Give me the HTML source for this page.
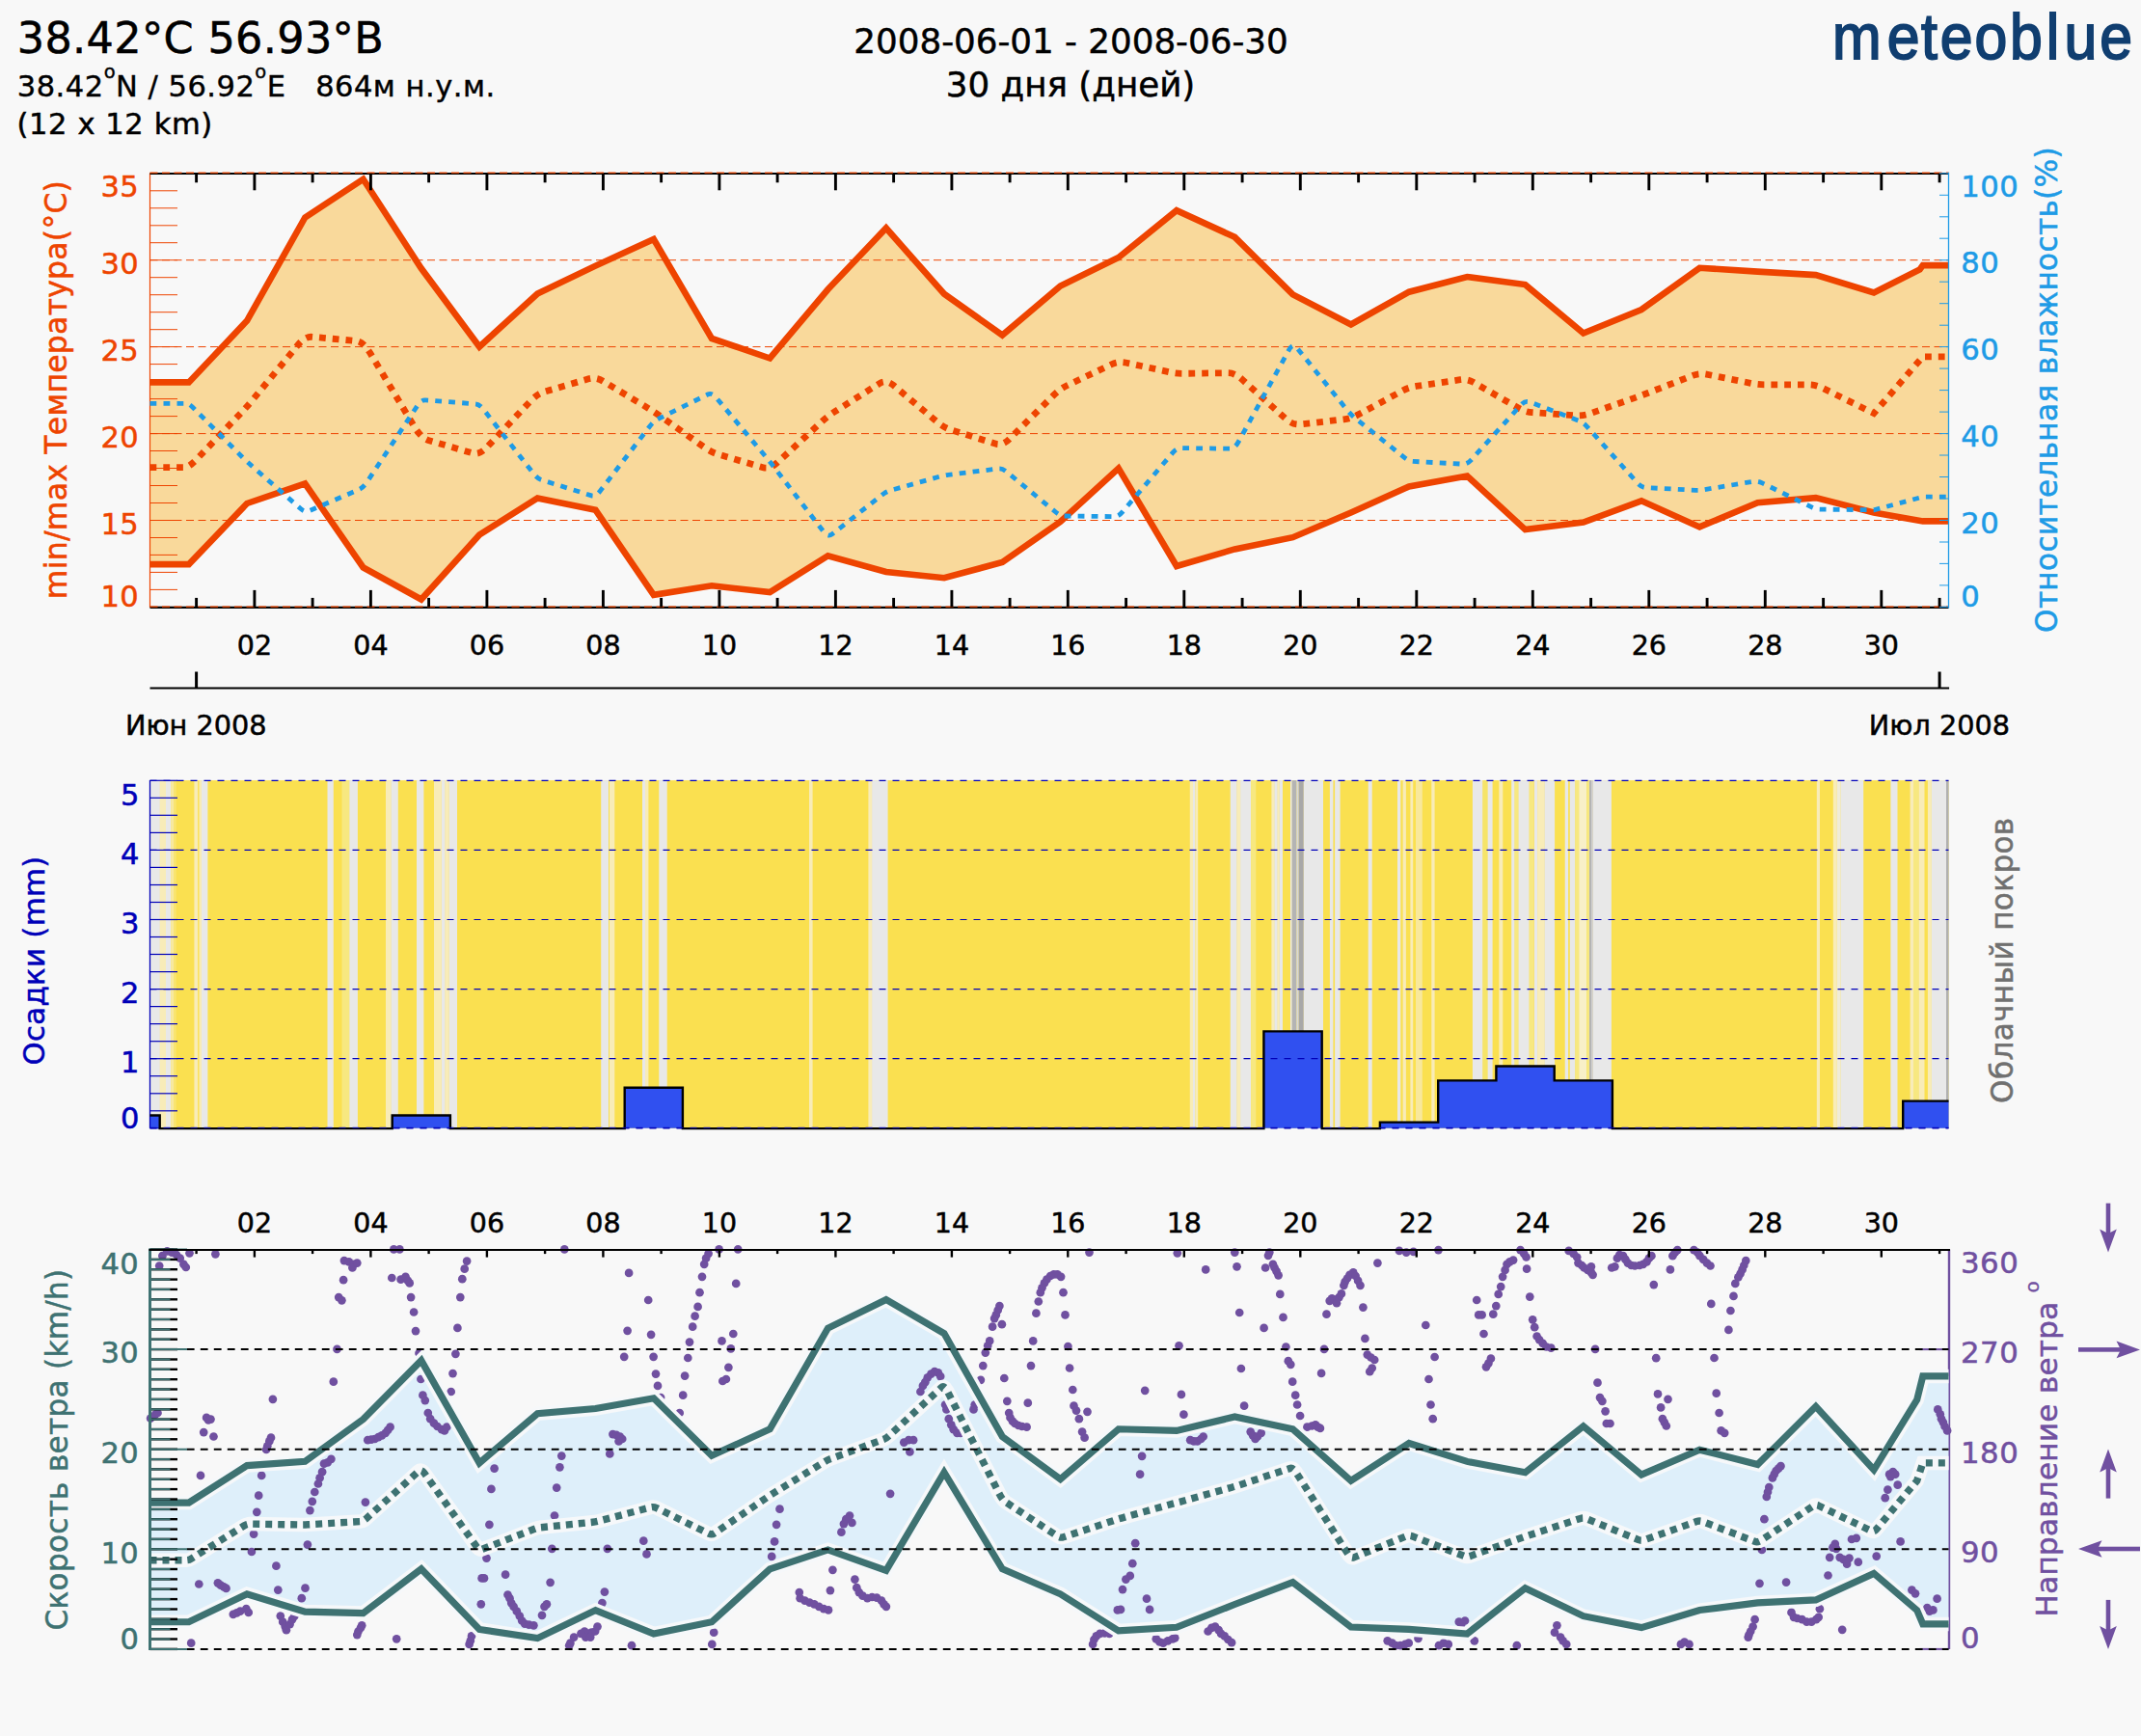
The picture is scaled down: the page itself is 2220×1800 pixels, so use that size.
<!DOCTYPE html>
<html><head><meta charset="utf-8"><title>meteoblue 2008-06</title>
<style>html,body{margin:0;padding:0;background:#f8f8f8}svg{display:block}text{font-family:'DejaVu Sans','Liberation Sans',sans-serif}</style></head>
<body><svg width="2220" height="1800" viewBox="0 0 2220 1800">
<rect width="2220" height="1800" fill="#f8f8f8"/>
<text x="17.8" y="55.2" font-size="44.5" fill="#000" stroke="#000" stroke-width="0.5" text-anchor="start" letter-spacing="0.35">38.42°C 56.93°B</text>
<text x="17.8" y="99.8" font-size="30.5" fill="#000" stroke="#000" stroke-width="0.4" letter-spacing="0.5">38.42<tspan font-size="19.5" dy="-18.4">o</tspan><tspan dy="18.4">N / 56.92</tspan><tspan font-size="19.5" dy="-18.4">o</tspan><tspan dy="18.4" xml:space="preserve">E   864м н.у.м.</tspan></text>
<text x="17.6" y="139.4" font-size="30.5" fill="#000" stroke="#000" stroke-width="0.5" text-anchor="start" letter-spacing="0.6">(12 x 12 km)</text>
<text x="1110.5" y="54.7" font-size="35.7" fill="#000" stroke="#000" stroke-width="0.5" text-anchor="middle" >2008-06-01 - 2008-06-30</text>
<text x="1110" y="99.5" font-size="35.7" fill="#000" stroke="#000" stroke-width="0.5" text-anchor="middle" >30 дня (дней)</text>
<text transform="translate(1897.5,61.3) scale(0.9,1)" x="2.8 65.8 105.1 127.0 166.7 207.2 249.2 269.9 310.9" y="0" style="font-family:'Liberation Sans',sans-serif" font-size="67.5" fill="#103e70" stroke="#103e70" stroke-width="1.9">meteoblue</text>
<polygon points="155.5,396.4 195.8,396.4 256.1,332.5 316.3,225.5 376.6,185.8 436.8,278.3 497.1,359.5 557.3,304.6 617.5,275.6 677.8,248 738,350.9 798.3,371.5 858.5,300 918.8,236.5 979,304.8 1039.3,347.5 1099.5,296.5 1159.8,267 1220,218.2 1280.3,245.8 1340.5,305.4 1400.8,336.5 1461,302.7 1521.3,287 1581.5,295.1 1641.8,345.5 1702,321 1762.3,277.8 1822.5,281.6 1882.8,285.1 1943,303.5 1990.6,279.5 1993.8,275.1 2020.5,275.1 2020.5,540.4 1993.8,540.4 1943,531.5 1882.8,516.1 1822.5,521.2 1762.3,546.4 1702,519.3 1641.8,541.5 1581.5,549.1 1521.3,493.6 1461,504.4 1400.8,531.5 1340.5,557.2 1280.3,569.4 1220,587 1159.8,485.6 1099.5,541 1039.3,583 979,599.2 918.8,593 858.5,576.2 798.3,614.1 738,607.3 677.8,616.8 617.5,528.8 557.3,516.5 497.1,554.5 436.8,621.5 376.6,588.4 316.3,501.5 256.1,522 195.8,585.1 155.5,585.1" fill="#f9d99b"/>
<line x1="155.5" y1="539.5" x2="2020.5" y2="539.5" stroke="#ee4400" stroke-width="1" stroke-dasharray="8 4.5"/>
<line x1="155.5" y1="449.6" x2="2020.5" y2="449.6" stroke="#ee4400" stroke-width="1" stroke-dasharray="8 4.5"/>
<line x1="155.5" y1="359.6" x2="2020.5" y2="359.6" stroke="#ee4400" stroke-width="1" stroke-dasharray="8 4.5"/>
<line x1="155.5" y1="269.7" x2="2020.5" y2="269.7" stroke="#ee4400" stroke-width="1" stroke-dasharray="8 4.5"/>
<line x1="155.5" y1="179.8" x2="2020.5" y2="179.8" stroke="#ee4400" stroke-width="1" stroke-dasharray="8 4.5"/>
<line x1="155.5" y1="629.4" x2="2020.5" y2="629.4" stroke="#ee4400" stroke-width="1" stroke-dasharray="8 4.5"/>
<line x1="155.5" y1="629.4" x2="184" y2="629.4" stroke="#ee4400" stroke-width="1" />
<line x1="155.5" y1="611.4" x2="184" y2="611.4" stroke="#ee4400" stroke-width="1" />
<line x1="155.5" y1="593.4" x2="184" y2="593.4" stroke="#ee4400" stroke-width="1" />
<line x1="155.5" y1="575.4" x2="184" y2="575.4" stroke="#ee4400" stroke-width="1" />
<line x1="155.5" y1="557.5" x2="184" y2="557.5" stroke="#ee4400" stroke-width="1" />
<line x1="155.5" y1="539.5" x2="184" y2="539.5" stroke="#ee4400" stroke-width="1" />
<line x1="155.5" y1="521.5" x2="184" y2="521.5" stroke="#ee4400" stroke-width="1" />
<line x1="155.5" y1="503.5" x2="184" y2="503.5" stroke="#ee4400" stroke-width="1" />
<line x1="155.5" y1="485.5" x2="184" y2="485.5" stroke="#ee4400" stroke-width="1" />
<line x1="155.5" y1="467.5" x2="184" y2="467.5" stroke="#ee4400" stroke-width="1" />
<line x1="155.5" y1="449.6" x2="184" y2="449.6" stroke="#ee4400" stroke-width="1" />
<line x1="155.5" y1="431.6" x2="184" y2="431.6" stroke="#ee4400" stroke-width="1" />
<line x1="155.5" y1="413.6" x2="184" y2="413.6" stroke="#ee4400" stroke-width="1" />
<line x1="155.5" y1="395.6" x2="184" y2="395.6" stroke="#ee4400" stroke-width="1" />
<line x1="155.5" y1="377.6" x2="184" y2="377.6" stroke="#ee4400" stroke-width="1" />
<line x1="155.5" y1="359.6" x2="184" y2="359.6" stroke="#ee4400" stroke-width="1" />
<line x1="155.5" y1="341.7" x2="184" y2="341.7" stroke="#ee4400" stroke-width="1" />
<line x1="155.5" y1="323.7" x2="184" y2="323.7" stroke="#ee4400" stroke-width="1" />
<line x1="155.5" y1="305.7" x2="184" y2="305.7" stroke="#ee4400" stroke-width="1" />
<line x1="155.5" y1="287.7" x2="184" y2="287.7" stroke="#ee4400" stroke-width="1" />
<line x1="155.5" y1="269.7" x2="184" y2="269.7" stroke="#ee4400" stroke-width="1" />
<line x1="155.5" y1="251.7" x2="184" y2="251.7" stroke="#ee4400" stroke-width="1" />
<line x1="155.5" y1="233.8" x2="184" y2="233.8" stroke="#ee4400" stroke-width="1" />
<line x1="155.5" y1="215.8" x2="184" y2="215.8" stroke="#ee4400" stroke-width="1" />
<line x1="155.5" y1="197.8" x2="184" y2="197.8" stroke="#ee4400" stroke-width="1" />
<line x1="155.5" y1="179.8" x2="184" y2="179.8" stroke="#ee4400" stroke-width="1" />
<line x1="155.5" y1="179.8" x2="155.5" y2="629.4" stroke="#ee4400" stroke-width="1.2" />
<path d="M155.5 484.6 L191 484.6 Q195.8 484.6 203 477.1 L248.8 429.3 Q256.1 421.8 263.3 413 L309.1 357.5 Q316.3 348.7 323.5 349.3 L369.3 353.5 Q376.6 354.1 383.8 366.1 L429.6 442.3 Q436.8 454.3 444 456.4 L489.8 469.8 Q497.1 471.9 504.3 464.3 L550.1 415.9 Q557.3 408.3 564.5 406.2 L610.3 392.8 Q617.5 390.7 624.8 395 L670.6 422.3 Q677.8 426.6 685 431.7 L730.8 464.1 Q738 469.2 745.3 471.3 L791.1 484.7 Q798.3 486.8 805.5 480.1 L851.3 438 Q858.5 431.3 865.8 426.7 L911.6 397.8 Q918.8 393.2 926 399.2 L971.8 437.5 Q979 443.5 986.3 445.8 L1032.1 460.1 Q1039.3 462.4 1046.5 455.3 L1092.3 410 Q1099.5 402.9 1106.8 399.5 L1152.6 377.8 Q1159.8 374.4 1167 376 L1212.8 385.8 Q1220 387.4 1227.3 387.3 L1273.1 386.7 Q1280.3 386.6 1287.5 393.1 L1333.3 434.3 Q1340.5 440.8 1347.8 440 L1393.6 434.8 Q1400.8 434 1408 430.1 L1453.8 405.4 Q1461 401.5 1468.3 400.4 L1514.1 393.7 Q1521.3 392.6 1528.5 396.8 L1574.3 423 Q1581.5 427.2 1588.8 427.7 L1634.6 430.8 Q1641.8 431.3 1649 428.7 L1694.8 412.6 Q1702 410 1709.3 407.2 L1755.1 389.4 Q1762.3 386.6 1769.5 388.1 L1815.3 397.3 Q1822.5 398.8 1829.8 398.8 L1875.6 398.8 Q1882.8 398.8 1890 402.4 L1943 428.6 L1993.8 369.8 L2020.5 369.8" fill="none" stroke="#ee4400" stroke-width="6.8" stroke-dasharray="6.8 7"/>
<polyline points="155.5,396.4 195.8,396.4 256.1,332.5 316.3,225.5 376.6,185.8 436.8,278.3 497.1,359.5 557.3,304.6 617.5,275.6 677.8,248 738,350.9 798.3,371.5 858.5,300 918.8,236.5 979,304.8 1039.3,347.5 1099.5,296.5 1159.8,267 1220,218.2 1280.3,245.8 1340.5,305.4 1400.8,336.5 1461,302.7 1521.3,287 1581.5,295.1 1641.8,345.5 1702,321 1762.3,277.8 1822.5,281.6 1882.8,285.1 1943,303.5 1990.6,279.5 1993.8,275.1 2020.5,275.1" fill="none" stroke="#ee4400" stroke-width="6.6" stroke-linejoin="miter"/>
<polyline points="155.5,585.1 195.8,585.1 256.1,522 316.3,501.5 376.6,588.4 436.8,621.5 497.1,554.5 557.3,516.5 617.5,528.8 677.8,616.8 738,607.3 798.3,614.1 858.5,576.2 918.8,593 979,599.2 1039.3,583 1099.5,541 1159.8,485.6 1220,587 1280.3,569.4 1340.5,557.2 1400.8,531.5 1461,504.4 1521.3,493.6 1581.5,549.1 1641.8,541.5 1702,519.3 1762.3,546.4 1822.5,521.2 1882.8,516.1 1943,531.5 1993.8,540.4 2020.5,540.4" fill="none" stroke="#ee4400" stroke-width="6.6" stroke-linejoin="miter"/>
<path d="M155.5 418.3 L193 418.3 Q195.8 418.3 200 422.5 L251.8 474.5 Q256.1 478.7 260.3 482.4 L312.1 527.8 Q316.3 531.5 320.5 529.7 L372.3 507.6 Q376.6 505.8 380.8 499.4 L432.6 420.9 Q436.8 414.5 441 414.8 L492.8 418.8 Q497.1 419.1 501.3 424.5 L553.1 490.9 Q557.3 496.3 561.5 497.6 L613.3 513.9 Q617.5 515.2 621.8 509.7 L673.6 442.2 Q677.8 436.7 682 434.6 L733.8 409 Q738 406.9 742.3 411.9 L794.1 473.7 Q798.3 478.7 802.5 484.2 L854.3 551.7 Q858.5 557.2 862.8 553.9 L914.6 513.1 Q918.8 509.8 923 508.6 L974.8 494 Q979 492.8 983.3 492.3 L1035.1 486 Q1039.3 485.5 1043.5 489 L1095.3 531.5 Q1099.5 535 1103.8 535 L1155.6 535.6 Q1159.8 535.6 1164 530.6 L1215.8 469.6 Q1220 464.6 1224.3 464.6 L1276.1 465.2 Q1280.3 465.2 1284.5 457.5 L1336.3 363.2 Q1340.5 355.5 1344.8 360.7 L1396.6 424.8 Q1400.8 430 1405 433.4 L1456.8 474.8 Q1461 478.2 1465.3 478.4 L1517.1 481.2 Q1521.3 481.4 1525.5 476.8 L1577.3 419.7 Q1581.5 415.1 1585.8 416.7 L1637.6 436.5 Q1641.8 438.1 1646 442.8 L1697.8 500.7 Q1702 505.4 1706.3 505.6 L1758.1 508.3 Q1762.3 508.5 1766.5 507.8 L1818.3 499.2 Q1822.5 498.5 1826.8 500.6 L1878.6 525.9 Q1882.8 528 1887 528.1 L1943 528.8 L1993.8 515.2 L2020.5 515.2" fill="none" stroke="#1e9be6" stroke-width="4.8" stroke-dasharray="6.8 7.2"/>
<line x1="155.5" y1="180" x2="2020.5" y2="180" stroke="#000" stroke-width="2.2" />
<line x1="155.5" y1="629.9" x2="2020.5" y2="629.9" stroke="#000" stroke-width="2.2" />
<line x1="155.5" y1="179.2" x2="2020.5" y2="179.2" stroke="#ee4400" stroke-width="1.2" stroke-dasharray="8 4.5"/>
<line x1="155.5" y1="629.1" x2="2020.5" y2="629.1" stroke="#ee4400" stroke-width="1.2" stroke-dasharray="8 4.5"/>
<line x1="203.6" y1="179.8" x2="203.6" y2="189.3" stroke="#000" stroke-width="2.9" />
<line x1="203.6" y1="629.4" x2="203.6" y2="619.9" stroke="#000" stroke-width="2.9" />
<line x1="263.9" y1="179.8" x2="263.9" y2="197.3" stroke="#000" stroke-width="2.9" />
<line x1="263.9" y1="629.4" x2="263.9" y2="611.9" stroke="#000" stroke-width="2.9" />
<text x="263.9" y="678.8" font-size="28.5" fill="#000" stroke="#000" stroke-width="0.5" text-anchor="middle" >02</text>
<line x1="324.1" y1="179.8" x2="324.1" y2="189.3" stroke="#000" stroke-width="2.9" />
<line x1="324.1" y1="629.4" x2="324.1" y2="619.9" stroke="#000" stroke-width="2.9" />
<line x1="384.4" y1="179.8" x2="384.4" y2="197.3" stroke="#000" stroke-width="2.9" />
<line x1="384.4" y1="629.4" x2="384.4" y2="611.9" stroke="#000" stroke-width="2.9" />
<text x="384.4" y="678.8" font-size="28.5" fill="#000" stroke="#000" stroke-width="0.5" text-anchor="middle" >04</text>
<line x1="444.6" y1="179.8" x2="444.6" y2="189.3" stroke="#000" stroke-width="2.9" />
<line x1="444.6" y1="629.4" x2="444.6" y2="619.9" stroke="#000" stroke-width="2.9" />
<line x1="504.9" y1="179.8" x2="504.9" y2="197.3" stroke="#000" stroke-width="2.9" />
<line x1="504.9" y1="629.4" x2="504.9" y2="611.9" stroke="#000" stroke-width="2.9" />
<text x="504.9" y="678.8" font-size="28.5" fill="#000" stroke="#000" stroke-width="0.5" text-anchor="middle" >06</text>
<line x1="565.1" y1="179.8" x2="565.1" y2="189.3" stroke="#000" stroke-width="2.9" />
<line x1="565.1" y1="629.4" x2="565.1" y2="619.9" stroke="#000" stroke-width="2.9" />
<line x1="625.4" y1="179.8" x2="625.4" y2="197.3" stroke="#000" stroke-width="2.9" />
<line x1="625.4" y1="629.4" x2="625.4" y2="611.9" stroke="#000" stroke-width="2.9" />
<text x="625.4" y="678.8" font-size="28.5" fill="#000" stroke="#000" stroke-width="0.5" text-anchor="middle" >08</text>
<line x1="685.6" y1="179.8" x2="685.6" y2="189.3" stroke="#000" stroke-width="2.9" />
<line x1="685.6" y1="629.4" x2="685.6" y2="619.9" stroke="#000" stroke-width="2.9" />
<line x1="745.9" y1="179.8" x2="745.9" y2="197.3" stroke="#000" stroke-width="2.9" />
<line x1="745.9" y1="629.4" x2="745.9" y2="611.9" stroke="#000" stroke-width="2.9" />
<text x="745.9" y="678.8" font-size="28.5" fill="#000" stroke="#000" stroke-width="0.5" text-anchor="middle" >10</text>
<line x1="806.1" y1="179.8" x2="806.1" y2="189.3" stroke="#000" stroke-width="2.9" />
<line x1="806.1" y1="629.4" x2="806.1" y2="619.9" stroke="#000" stroke-width="2.9" />
<line x1="866.4" y1="179.8" x2="866.4" y2="197.3" stroke="#000" stroke-width="2.9" />
<line x1="866.4" y1="629.4" x2="866.4" y2="611.9" stroke="#000" stroke-width="2.9" />
<text x="866.4" y="678.8" font-size="28.5" fill="#000" stroke="#000" stroke-width="0.5" text-anchor="middle" >12</text>
<line x1="926.6" y1="179.8" x2="926.6" y2="189.3" stroke="#000" stroke-width="2.9" />
<line x1="926.6" y1="629.4" x2="926.6" y2="619.9" stroke="#000" stroke-width="2.9" />
<line x1="986.9" y1="179.8" x2="986.9" y2="197.3" stroke="#000" stroke-width="2.9" />
<line x1="986.9" y1="629.4" x2="986.9" y2="611.9" stroke="#000" stroke-width="2.9" />
<text x="986.9" y="678.8" font-size="28.5" fill="#000" stroke="#000" stroke-width="0.5" text-anchor="middle" >14</text>
<line x1="1047.1" y1="179.8" x2="1047.1" y2="189.3" stroke="#000" stroke-width="2.9" />
<line x1="1047.1" y1="629.4" x2="1047.1" y2="619.9" stroke="#000" stroke-width="2.9" />
<line x1="1107.3" y1="179.8" x2="1107.3" y2="197.3" stroke="#000" stroke-width="2.9" />
<line x1="1107.3" y1="629.4" x2="1107.3" y2="611.9" stroke="#000" stroke-width="2.9" />
<text x="1107.3" y="678.8" font-size="28.5" fill="#000" stroke="#000" stroke-width="0.5" text-anchor="middle" >16</text>
<line x1="1167.6" y1="179.8" x2="1167.6" y2="189.3" stroke="#000" stroke-width="2.9" />
<line x1="1167.6" y1="629.4" x2="1167.6" y2="619.9" stroke="#000" stroke-width="2.9" />
<line x1="1227.8" y1="179.8" x2="1227.8" y2="197.3" stroke="#000" stroke-width="2.9" />
<line x1="1227.8" y1="629.4" x2="1227.8" y2="611.9" stroke="#000" stroke-width="2.9" />
<text x="1227.8" y="678.8" font-size="28.5" fill="#000" stroke="#000" stroke-width="0.5" text-anchor="middle" >18</text>
<line x1="1288.1" y1="179.8" x2="1288.1" y2="189.3" stroke="#000" stroke-width="2.9" />
<line x1="1288.1" y1="629.4" x2="1288.1" y2="619.9" stroke="#000" stroke-width="2.9" />
<line x1="1348.3" y1="179.8" x2="1348.3" y2="197.3" stroke="#000" stroke-width="2.9" />
<line x1="1348.3" y1="629.4" x2="1348.3" y2="611.9" stroke="#000" stroke-width="2.9" />
<text x="1348.3" y="678.8" font-size="28.5" fill="#000" stroke="#000" stroke-width="0.5" text-anchor="middle" >20</text>
<line x1="1408.6" y1="179.8" x2="1408.6" y2="189.3" stroke="#000" stroke-width="2.9" />
<line x1="1408.6" y1="629.4" x2="1408.6" y2="619.9" stroke="#000" stroke-width="2.9" />
<line x1="1468.8" y1="179.8" x2="1468.8" y2="197.3" stroke="#000" stroke-width="2.9" />
<line x1="1468.8" y1="629.4" x2="1468.8" y2="611.9" stroke="#000" stroke-width="2.9" />
<text x="1468.8" y="678.8" font-size="28.5" fill="#000" stroke="#000" stroke-width="0.5" text-anchor="middle" >22</text>
<line x1="1529.1" y1="179.8" x2="1529.1" y2="189.3" stroke="#000" stroke-width="2.9" />
<line x1="1529.1" y1="629.4" x2="1529.1" y2="619.9" stroke="#000" stroke-width="2.9" />
<line x1="1589.3" y1="179.8" x2="1589.3" y2="197.3" stroke="#000" stroke-width="2.9" />
<line x1="1589.3" y1="629.4" x2="1589.3" y2="611.9" stroke="#000" stroke-width="2.9" />
<text x="1589.3" y="678.8" font-size="28.5" fill="#000" stroke="#000" stroke-width="0.5" text-anchor="middle" >24</text>
<line x1="1649.6" y1="179.8" x2="1649.6" y2="189.3" stroke="#000" stroke-width="2.9" />
<line x1="1649.6" y1="629.4" x2="1649.6" y2="619.9" stroke="#000" stroke-width="2.9" />
<line x1="1709.8" y1="179.8" x2="1709.8" y2="197.3" stroke="#000" stroke-width="2.9" />
<line x1="1709.8" y1="629.4" x2="1709.8" y2="611.9" stroke="#000" stroke-width="2.9" />
<text x="1709.8" y="678.8" font-size="28.5" fill="#000" stroke="#000" stroke-width="0.5" text-anchor="middle" >26</text>
<line x1="1770.1" y1="179.8" x2="1770.1" y2="189.3" stroke="#000" stroke-width="2.9" />
<line x1="1770.1" y1="629.4" x2="1770.1" y2="619.9" stroke="#000" stroke-width="2.9" />
<line x1="1830.3" y1="179.8" x2="1830.3" y2="197.3" stroke="#000" stroke-width="2.9" />
<line x1="1830.3" y1="629.4" x2="1830.3" y2="611.9" stroke="#000" stroke-width="2.9" />
<text x="1830.3" y="678.8" font-size="28.5" fill="#000" stroke="#000" stroke-width="0.5" text-anchor="middle" >28</text>
<line x1="1890.6" y1="179.8" x2="1890.6" y2="189.3" stroke="#000" stroke-width="2.9" />
<line x1="1890.6" y1="629.4" x2="1890.6" y2="619.9" stroke="#000" stroke-width="2.9" />
<line x1="1950.8" y1="179.8" x2="1950.8" y2="197.3" stroke="#000" stroke-width="2.9" />
<line x1="1950.8" y1="629.4" x2="1950.8" y2="611.9" stroke="#000" stroke-width="2.9" />
<text x="1950.8" y="678.8" font-size="28.5" fill="#000" stroke="#000" stroke-width="0.5" text-anchor="middle" >30</text>
<line x1="2011.1" y1="179.8" x2="2011.1" y2="189.3" stroke="#000" stroke-width="2.9" />
<line x1="2011.1" y1="629.4" x2="2011.1" y2="619.9" stroke="#000" stroke-width="2.9" />
<line x1="2020.5" y1="178.8" x2="2020.5" y2="630.4" stroke="#1e9be6" stroke-width="1.3" />
<line x1="2011" y1="629.4" x2="2020.5" y2="629.4" stroke="#1e9be6" stroke-width="1" />
<line x1="2011" y1="606.9" x2="2020.5" y2="606.9" stroke="#1e9be6" stroke-width="1" />
<line x1="2011" y1="584.4" x2="2020.5" y2="584.4" stroke="#1e9be6" stroke-width="1" />
<line x1="2011" y1="562" x2="2020.5" y2="562" stroke="#1e9be6" stroke-width="1" />
<line x1="2011" y1="539.5" x2="2020.5" y2="539.5" stroke="#1e9be6" stroke-width="1" />
<line x1="2011" y1="517" x2="2020.5" y2="517" stroke="#1e9be6" stroke-width="1" />
<line x1="2011" y1="494.5" x2="2020.5" y2="494.5" stroke="#1e9be6" stroke-width="1" />
<line x1="2011" y1="472" x2="2020.5" y2="472" stroke="#1e9be6" stroke-width="1" />
<line x1="2011" y1="449.6" x2="2020.5" y2="449.6" stroke="#1e9be6" stroke-width="1" />
<line x1="2011" y1="427.1" x2="2020.5" y2="427.1" stroke="#1e9be6" stroke-width="1" />
<line x1="2011" y1="404.6" x2="2020.5" y2="404.6" stroke="#1e9be6" stroke-width="1" />
<line x1="2011" y1="382.1" x2="2020.5" y2="382.1" stroke="#1e9be6" stroke-width="1" />
<line x1="2011" y1="359.6" x2="2020.5" y2="359.6" stroke="#1e9be6" stroke-width="1" />
<line x1="2011" y1="337.2" x2="2020.5" y2="337.2" stroke="#1e9be6" stroke-width="1" />
<line x1="2011" y1="314.7" x2="2020.5" y2="314.7" stroke="#1e9be6" stroke-width="1" />
<line x1="2011" y1="292.2" x2="2020.5" y2="292.2" stroke="#1e9be6" stroke-width="1" />
<line x1="2011" y1="269.7" x2="2020.5" y2="269.7" stroke="#1e9be6" stroke-width="1" />
<line x1="2011" y1="247.2" x2="2020.5" y2="247.2" stroke="#1e9be6" stroke-width="1" />
<line x1="2011" y1="224.8" x2="2020.5" y2="224.8" stroke="#1e9be6" stroke-width="1" />
<line x1="2011" y1="202.3" x2="2020.5" y2="202.3" stroke="#1e9be6" stroke-width="1" />
<line x1="2011" y1="179.8" x2="2020.5" y2="179.8" stroke="#1e9be6" stroke-width="1" />
<text x="2033.3" y="204" font-size="30.7" fill="#1e9be6" stroke="#1e9be6" stroke-width="0.5" text-anchor="start" letter-spacing="0.5">100</text>
<text x="2033.3" y="283.3" font-size="30.7" fill="#1e9be6" stroke="#1e9be6" stroke-width="0.5" text-anchor="start" letter-spacing="0.5">80</text>
<text x="2033.3" y="373.1" font-size="30.7" fill="#1e9be6" stroke="#1e9be6" stroke-width="0.5" text-anchor="start" letter-spacing="0.5">60</text>
<text x="2033.3" y="463.3" font-size="30.7" fill="#1e9be6" stroke="#1e9be6" stroke-width="0.5" text-anchor="start" letter-spacing="0.5">40</text>
<text x="2033.3" y="553.2" font-size="30.7" fill="#1e9be6" stroke="#1e9be6" stroke-width="0.5" text-anchor="start" letter-spacing="0.5">20</text>
<text x="2033.3" y="628.7" font-size="30.7" fill="#1e9be6" stroke="#1e9be6" stroke-width="0.5" text-anchor="start" letter-spacing="0.5">0</text>
<text x="144.2" y="204.2" font-size="30.5" fill="#ee4400" stroke="#ee4400" stroke-width="0.5" text-anchor="end" letter-spacing="0.4">35</text>
<text x="144.2" y="283.8" font-size="30.5" fill="#ee4400" stroke="#ee4400" stroke-width="0.5" text-anchor="end" letter-spacing="0.4">30</text>
<text x="144.2" y="373.6" font-size="30.5" fill="#ee4400" stroke="#ee4400" stroke-width="0.5" text-anchor="end" letter-spacing="0.4">25</text>
<text x="144.2" y="463.8" font-size="30.5" fill="#ee4400" stroke="#ee4400" stroke-width="0.5" text-anchor="end" letter-spacing="0.4">20</text>
<text x="144.2" y="553.7" font-size="30.5" fill="#ee4400" stroke="#ee4400" stroke-width="0.5" text-anchor="end" letter-spacing="0.4">15</text>
<text x="144.2" y="629.4" font-size="30.5" fill="#ee4400" stroke="#ee4400" stroke-width="0.5" text-anchor="end" letter-spacing="0.4">10</text>
<text transform="translate(69,404) rotate(-90)" font-size="31.4" fill="#ee4400" stroke="#ee4400" stroke-width="0.5" letter-spacing="0.3" text-anchor="middle">min/max Температура(°C)</text>
<text transform="translate(2132.8,404) rotate(-90)" font-size="31.2" fill="#1e9be6" stroke="#1e9be6" stroke-width="0.5" letter-spacing="0.3" text-anchor="middle">Относительная влажность(%)</text>
<line x1="155.5" y1="713.4" x2="2021.1" y2="713.4" stroke="#000" stroke-width="2" />
<line x1="203.6" y1="696.5" x2="203.6" y2="713.4" stroke="#000" stroke-width="3" />
<line x1="2011.1" y1="696.5" x2="2011.1" y2="713.4" stroke="#000" stroke-width="3" />
<text x="203.2" y="761.8" font-size="28.7" fill="#000" stroke="#000" stroke-width="0.5" text-anchor="middle" >Июн 2008</text>
<text x="2010.9" y="762.2" font-size="28.7" fill="#000" stroke="#000" stroke-width="0.5" text-anchor="middle" >Июл 2008</text>
<rect x="155.5" y="809.1" width="1865" height="360.7" fill="#fae050"/>
<rect x="155.4" y="809.1" width="10.5" height="360.7" fill="#e8e8e8"/>
<rect x="165.9" y="809.1" width="6.1" height="360.7" fill="#f8ecb8"/>
<rect x="172" y="809.1" width="5.1" height="360.7" fill="#e8e8e8"/>
<rect x="177.1" y="809.1" width="2.9" height="360.7" fill="#f7e9a0"/>
<rect x="180" y="809.1" width="2.7" height="360.7" fill="#f9e470"/>
<rect x="201.4" y="809.1" width="3.7" height="360.7" fill="#f8ecb8"/>
<rect x="206.5" y="809.1" width="2.4" height="360.7" fill="#f8ecb8"/>
<rect x="208.9" y="809.1" width="6.5" height="360.7" fill="#e8e8e8"/>
<rect x="339.5" y="809.1" width="6.3" height="360.7" fill="#e8e8e8"/>
<rect x="354.5" y="809.1" width="7.8" height="360.7" fill="#f7e880"/>
<rect x="362.3" y="809.1" width="8.6" height="360.7" fill="#e8e8e8"/>
<rect x="400" y="809.1" width="5.4" height="360.7" fill="#f8ecb8"/>
<rect x="405.4" y="809.1" width="7.4" height="360.7" fill="#e8e8e8"/>
<rect x="432" y="809.1" width="7.4" height="360.7" fill="#e8e8e8"/>
<rect x="450" y="809.1" width="7.7" height="360.7" fill="#f8ecb8"/>
<rect x="457.7" y="809.1" width="4" height="360.7" fill="#e8e8e8"/>
<rect x="461.7" y="809.1" width="3.9" height="360.7" fill="#f8ecb8"/>
<rect x="465.6" y="809.1" width="8.4" height="360.7" fill="#e8e8e8"/>
<rect x="623.2" y="809.1" width="7.8" height="360.7" fill="#e8e8e8"/>
<rect x="632" y="809.1" width="5.3" height="360.7" fill="#f8ecb8"/>
<rect x="666" y="809.1" width="3" height="360.7" fill="#e8e8e8"/>
<rect x="669" y="809.1" width="3.4" height="360.7" fill="#f8ecb8"/>
<rect x="683.3" y="809.1" width="8.4" height="360.7" fill="#e8e8e8"/>
<rect x="839" y="809.1" width="3.6" height="360.7" fill="#f8ecb8"/>
<rect x="900.4" y="809.1" width="3.7" height="360.7" fill="#f8ecb8"/>
<rect x="904.1" y="809.1" width="16.5" height="360.7" fill="#e8e8e8"/>
<rect x="1233.8" y="809.1" width="3.2" height="360.7" fill="#f8ecb8"/>
<rect x="1237" y="809.1" width="2.5" height="360.7" fill="#e8e8e8"/>
<rect x="1239.5" y="809.1" width="2.7" height="360.7" fill="#f8ecb8"/>
<rect x="1275.7" y="809.1" width="7" height="360.7" fill="#e8e8e8"/>
<rect x="1282.7" y="809.1" width="3.4" height="360.7" fill="#f8ecb8"/>
<rect x="1286.1" y="809.1" width="11" height="360.7" fill="#e8e8e8"/>
<rect x="1297.1" y="809.1" width="5.2" height="360.7" fill="#f7e880"/>
<rect x="1300" y="809.1" width="2" height="360.7" fill="#f7e880"/>
<rect x="1318.4" y="809.1" width="2.9" height="360.7" fill="#f8ecb8"/>
<rect x="1321.3" y="809.1" width="3.5" height="360.7" fill="#e8e8e8"/>
<rect x="1324.8" y="809.1" width="1.7" height="360.7" fill="#f8ecb8"/>
<rect x="1326.5" y="809.1" width="3.5" height="360.7" fill="#e8e8e8"/>
<rect x="1338" y="809.1" width="1.7" height="360.7" fill="#e8e8e8"/>
<rect x="1339.7" y="809.1" width="4.7" height="360.7" fill="#b4b4b4"/>
<rect x="1344.4" y="809.1" width="2.3" height="360.7" fill="#d8d8d8"/>
<rect x="1346.7" y="809.1" width="5.1" height="360.7" fill="#a8a8a8"/>
<rect x="1351.8" y="809.1" width="20.2" height="360.7" fill="#e8e8e8"/>
<rect x="1378.9" y="809.1" width="3.5" height="360.7" fill="#e8e8e8"/>
<rect x="1384.1" y="809.1" width="5.5" height="360.7" fill="#e8e8e8"/>
<rect x="1418.7" y="809.1" width="4" height="360.7" fill="#e8e8e8"/>
<rect x="1449" y="809.1" width="3.3" height="360.7" fill="#e8e8e8"/>
<rect x="1454.6" y="809.1" width="3.3" height="360.7" fill="#f8ecb8"/>
<rect x="1462.4" y="809.1" width="2.8" height="360.7" fill="#f8ecb8"/>
<rect x="1468" y="809.1" width="6.8" height="360.7" fill="#f8e89c"/>
<rect x="1484.3" y="809.1" width="3.3" height="360.7" fill="#f8ecb8"/>
<rect x="1526.9" y="809.1" width="10.6" height="360.7" fill="#e8e8e8"/>
<rect x="1537.5" y="809.1" width="5.1" height="360.7" fill="#f6e468"/>
<rect x="1542.6" y="809.1" width="5" height="360.7" fill="#e8e8e8"/>
<rect x="1554.3" y="809.1" width="4" height="360.7" fill="#f8ecb8"/>
<rect x="1567.2" y="809.1" width="3.4" height="360.7" fill="#e8e8e8"/>
<rect x="1570.6" y="809.1" width="3.9" height="360.7" fill="#f7e880"/>
<rect x="1574.5" y="809.1" width="11.2" height="360.7" fill="#e8e8e8"/>
<rect x="1585.7" y="809.1" width="4.5" height="360.7" fill="#f7e880"/>
<rect x="1590.8" y="809.1" width="3.3" height="360.7" fill="#e8e8e8"/>
<rect x="1594.1" y="809.1" width="7.3" height="360.7" fill="#f8ecb8"/>
<rect x="1601.4" y="809.1" width="10.7" height="360.7" fill="#e8e8e8"/>
<rect x="1622.7" y="809.1" width="3.4" height="360.7" fill="#e8e8e8"/>
<rect x="1627.8" y="809.1" width="5.6" height="360.7" fill="#e8e8e8"/>
<rect x="1633.4" y="809.1" width="3.9" height="360.7" fill="#f7e880"/>
<rect x="1637.3" y="809.1" width="7.9" height="360.7" fill="#f8f0c8"/>
<rect x="1645.2" y="809.1" width="2.8" height="360.7" fill="#f7e880"/>
<rect x="1648" y="809.1" width="2" height="360.7" fill="#b4b4b4"/>
<rect x="1650" y="809.1" width="1.9" height="360.7" fill="#d0d0d0"/>
<rect x="1651.9" y="809.1" width="19" height="360.7" fill="#e8e8e8"/>
<rect x="1883.8" y="809.1" width="3.2" height="360.7" fill="#f8ecb8"/>
<rect x="1900.8" y="809.1" width="3.9" height="360.7" fill="#f8ecb8"/>
<rect x="1904.7" y="809.1" width="4" height="360.7" fill="#f0ecd8"/>
<rect x="1908.7" y="809.1" width="23.5" height="360.7" fill="#e8e8e8"/>
<rect x="1960.4" y="809.1" width="7.1" height="360.7" fill="#e8e8e8"/>
<rect x="1980.6" y="809.1" width="3.9" height="360.7" fill="#f8ecb8"/>
<rect x="1984.5" y="809.1" width="5.2" height="360.7" fill="#f7e880"/>
<rect x="1989.7" y="809.1" width="5.8" height="360.7" fill="#f8ecb8"/>
<rect x="1998.9" y="809.1" width="3.9" height="360.7" fill="#f8ecb8"/>
<rect x="2002.8" y="809.1" width="15.2" height="360.7" fill="#e8e8e8"/>
<rect x="2018" y="809.1" width="2.6" height="360.7" fill="#b0b0b0"/>
<polygon points="155.5,1156.2 165.7,1156.2 165.7,1169.8 406.7,1169.8 406.7,1156.2 466.9,1156.2 466.9,1169.8 647.7,1169.8 647.7,1127.4 707.9,1127.4 707.9,1169.8 1310.4,1169.8 1310.4,1069.1 1370.7,1069.1 1370.7,1169.8 1430.9,1169.8 1430.9,1163.3 1491.2,1163.3 1491.2,1120.1 1551.4,1120.1 1551.4,1105.2 1611.7,1105.2 1611.7,1120.1 1671.9,1120.1 1671.9,1169.8 1973.2,1169.8 1973.2,1141.3 2020.5,1141.3 2020.5,1169.8 155.5,1169.8" fill="#3050f0"/>
<line x1="155.5" y1="1169.8" x2="2020.5" y2="1169.8" stroke="#0000b8" stroke-width="1.2" stroke-dasharray="7 7"/>
<line x1="155.5" y1="1097.7" x2="2020.5" y2="1097.7" stroke="#0000b8" stroke-width="1.2" stroke-dasharray="7 7"/>
<line x1="155.5" y1="1025.6" x2="2020.5" y2="1025.6" stroke="#0000b8" stroke-width="1.2" stroke-dasharray="7 7"/>
<line x1="155.5" y1="953.5" x2="2020.5" y2="953.5" stroke="#0000b8" stroke-width="1.2" stroke-dasharray="7 7"/>
<line x1="155.5" y1="881.4" x2="2020.5" y2="881.4" stroke="#0000b8" stroke-width="1.2" stroke-dasharray="7 7"/>
<line x1="155.5" y1="809.3" x2="2020.5" y2="809.3" stroke="#0000b8" stroke-width="1.2" stroke-dasharray="7 7"/>
<line x1="155.5" y1="1169.8" x2="184" y2="1169.8" stroke="#0000b8" stroke-width="1.2" />
<line x1="155.5" y1="1151.8" x2="184" y2="1151.8" stroke="#0000b8" stroke-width="1.2" />
<line x1="155.5" y1="1133.8" x2="184" y2="1133.8" stroke="#0000b8" stroke-width="1.2" />
<line x1="155.5" y1="1115.7" x2="184" y2="1115.7" stroke="#0000b8" stroke-width="1.2" />
<line x1="155.5" y1="1097.7" x2="184" y2="1097.7" stroke="#0000b8" stroke-width="1.2" />
<line x1="155.5" y1="1079.7" x2="184" y2="1079.7" stroke="#0000b8" stroke-width="1.2" />
<line x1="155.5" y1="1061.6" x2="184" y2="1061.6" stroke="#0000b8" stroke-width="1.2" />
<line x1="155.5" y1="1043.6" x2="184" y2="1043.6" stroke="#0000b8" stroke-width="1.2" />
<line x1="155.5" y1="1025.6" x2="184" y2="1025.6" stroke="#0000b8" stroke-width="1.2" />
<line x1="155.5" y1="1007.6" x2="184" y2="1007.6" stroke="#0000b8" stroke-width="1.2" />
<line x1="155.5" y1="989.5" x2="184" y2="989.5" stroke="#0000b8" stroke-width="1.2" />
<line x1="155.5" y1="971.5" x2="184" y2="971.5" stroke="#0000b8" stroke-width="1.2" />
<line x1="155.5" y1="953.5" x2="184" y2="953.5" stroke="#0000b8" stroke-width="1.2" />
<line x1="155.5" y1="935.5" x2="184" y2="935.5" stroke="#0000b8" stroke-width="1.2" />
<line x1="155.5" y1="917.5" x2="184" y2="917.5" stroke="#0000b8" stroke-width="1.2" />
<line x1="155.5" y1="899.4" x2="184" y2="899.4" stroke="#0000b8" stroke-width="1.2" />
<line x1="155.5" y1="881.4" x2="184" y2="881.4" stroke="#0000b8" stroke-width="1.2" />
<line x1="155.5" y1="863.4" x2="184" y2="863.4" stroke="#0000b8" stroke-width="1.2" />
<line x1="155.5" y1="845.3" x2="184" y2="845.3" stroke="#0000b8" stroke-width="1.2" />
<line x1="155.5" y1="827.3" x2="184" y2="827.3" stroke="#0000b8" stroke-width="1.2" />
<line x1="155.5" y1="809.3" x2="184" y2="809.3" stroke="#0000b8" stroke-width="1.2" />
<line x1="155.5" y1="809.1" x2="155.5" y2="1169.8" stroke="#0000b8" stroke-width="1.3" />
<polyline points="155.5,1156.2 165.7,1156.2 165.7,1169.8 406.7,1169.8 406.7,1156.2 466.9,1156.2 466.9,1169.8 647.7,1169.8 647.7,1127.4 707.9,1127.4 707.9,1169.8 1310.4,1169.8 1310.4,1069.1 1370.7,1069.1 1370.7,1169.8 1430.9,1169.8 1430.9,1163.3 1491.2,1163.3 1491.2,1120.1 1551.4,1120.1 1551.4,1105.2 1611.7,1105.2 1611.7,1120.1 1671.9,1120.1 1671.9,1169.8 1973.2,1169.8 1973.2,1141.3 2020.5,1141.3" fill="none" stroke="#000" stroke-width="2.4" stroke-linejoin="miter" transform="translate(0,0.3)"/>
<line x1="155.5" y1="1169.3" x2="2020.5" y2="1169.3" stroke="#0000b8" stroke-width="1" stroke-dasharray="7 7"/>
<text x="144.4" y="835" font-size="30.5" fill="#0000b8" stroke="#0000b8" stroke-width="0.5" text-anchor="end" >5</text>
<text x="144.4" y="896.3" font-size="30.5" fill="#0000b8" stroke="#0000b8" stroke-width="0.5" text-anchor="end" >4</text>
<text x="144.4" y="968.3" font-size="30.5" fill="#0000b8" stroke="#0000b8" stroke-width="0.5" text-anchor="end" >3</text>
<text x="144.4" y="1040.2" font-size="30.5" fill="#0000b8" stroke="#0000b8" stroke-width="0.5" text-anchor="end" >2</text>
<text x="144.4" y="1112.2" font-size="30.5" fill="#0000b8" stroke="#0000b8" stroke-width="0.5" text-anchor="end" >1</text>
<text x="144.4" y="1169.9" font-size="30.5" fill="#0000b8" stroke="#0000b8" stroke-width="0.5" text-anchor="end" >0</text>
<text transform="translate(45.8,996) rotate(-90)" font-size="30.8" fill="#0000b8" stroke="#0000b8" stroke-width="0.5" letter-spacing="0.3" text-anchor="middle">Осадки (mm)</text>
<text transform="translate(2087,995.7) rotate(-90)" font-size="31.2" fill="#707070" stroke="#707070" stroke-width="0.5" letter-spacing="0.3" text-anchor="middle">Облачный покров</text>
<line x1="2021" y1="1295.6" x2="2021" y2="1709.9" stroke="#7050a0" stroke-width="2.4" />
<polygon points="155.5,1558.1 195.8,1558.1 256.1,1519.6 316.3,1515.4 376.6,1471.5 436.8,1410.7 497.1,1516.9 557.3,1465.7 617.5,1460.5 677.8,1449.8 738,1509.3 798.3,1481.8 858.5,1377.1 918.8,1347.5 979,1382.6 1039.3,1489.5 1099.5,1533.7 1159.8,1481.8 1220,1483.4 1280.3,1469 1340.5,1481.8 1400.8,1535.3 1461,1496.5 1521.3,1515.4 1581.5,1526.7 1641.8,1478.8 1702,1529.1 1762.3,1503.2 1822.5,1518.5 1882.8,1458.3 1943,1524 1987.7,1451.3 1993.8,1426.9 2020.5,1426.9 2020.5,1683.9 1993.8,1683.9 1987.7,1669.6 1943,1631.4 1882.8,1658.9 1822.5,1661.9 1762.3,1669.6 1702,1687.6 1641.8,1675.7 1581.5,1646.7 1521.3,1694 1461,1689.4 1400.8,1687 1340.5,1640.6 1280.3,1663.5 1220,1687.3 1159.8,1690.9 1099.5,1652.8 1039.3,1626.8 979,1526.7 918.8,1628.4 858.5,1607 798.3,1626.8 738,1681.8 677.8,1694 617.5,1669.6 557.3,1698.6 497.1,1689.4 436.8,1626.8 376.6,1672.6 316.3,1671.1 256.1,1652.8 195.8,1681.8 155.5,1681.8" fill="#deeffa"/>
<line x1="1990.5" y1="1709.9" x2="2020.5" y2="1709.9" stroke="#7050a0" stroke-width="2" />
<line x1="1990.5" y1="1399.1" x2="2020.5" y2="1399.1" stroke="#7050a0" stroke-width="2" />
<g fill="#7050a0"><circle cx="165.2" cy="1312.5" r="4.35"/><circle cx="168.4" cy="1302.2" r="4.35"/><circle cx="173.3" cy="1297.3" r="4.35"/><circle cx="178.2" cy="1298.6" r="4.35"/><circle cx="183" cy="1301" r="4.35"/><circle cx="186.7" cy="1304.7" r="4.35"/><circle cx="190.4" cy="1310.8" r="4.35"/><circle cx="192.8" cy="1314" r="4.35"/><circle cx="196.5" cy="1299.3" r="4.35"/><circle cx="223.4" cy="1300.3" r="4.35"/><circle cx="408.3" cy="1295.4" r="4.35"/><circle cx="414.4" cy="1295.4" r="4.35"/><circle cx="356.9" cy="1307.1" r="4.35"/><circle cx="361.8" cy="1308.4" r="4.35"/><circle cx="366.6" cy="1310.8" r="4.35"/><circle cx="365.4" cy="1314.5" r="4.35"/><circle cx="370.3" cy="1309.6" r="4.35"/><circle cx="356.1" cy="1327.2" r="4.35"/><circle cx="351.2" cy="1345.1" r="4.35"/><circle cx="354.4" cy="1348.3" r="4.35"/><circle cx="349.5" cy="1398.9" r="4.35"/><circle cx="345.8" cy="1432.7" r="4.35"/><circle cx="406.3" cy="1325" r="4.35"/><circle cx="415.6" cy="1326.7" r="4.35"/><circle cx="420.5" cy="1323.8" r="4.35"/><circle cx="422.9" cy="1327.9" r="4.35"/><circle cx="424.7" cy="1330.4" r="4.35"/><circle cx="426.1" cy="1345.1" r="4.35"/><circle cx="429.1" cy="1360.5" r="4.35"/><circle cx="431" cy="1380.1" r="4.35"/><circle cx="434.5" cy="1403.1" r="4.35"/><circle cx="436.4" cy="1430" r="4.35"/><circle cx="438.4" cy="1446.7" r="4.35"/><circle cx="440.8" cy="1452.1" r="4.35"/><circle cx="443.8" cy="1465" r="4.35"/><circle cx="446.2" cy="1471.2" r="4.35"/><circle cx="449.9" cy="1475.6" r="4.35"/><circle cx="453.5" cy="1479" r="4.35"/><circle cx="458" cy="1482.2" r="4.35"/><circle cx="460.9" cy="1483.4" r="4.35"/><circle cx="463.3" cy="1479.7" r="4.35"/><circle cx="484.1" cy="1307.6" r="4.35"/><circle cx="481.7" cy="1315.7" r="4.35"/><circle cx="479.3" cy="1326.2" r="4.35"/><circle cx="477.3" cy="1345.1" r="4.35"/><circle cx="474.4" cy="1376.9" r="4.35"/><circle cx="472.4" cy="1403.8" r="4.35"/><circle cx="469.5" cy="1424.1" r="4.35"/><circle cx="467.7" cy="1443" r="4.35"/><circle cx="156.1" cy="1470.7" r="4.35"/><circle cx="161" cy="1466.7" r="4.35"/><circle cx="163.5" cy="1465" r="4.35"/><circle cx="214.1" cy="1469.9" r="4.35"/><circle cx="216.1" cy="1472.4" r="4.35"/><circle cx="218.5" cy="1471.6" r="4.35"/><circle cx="211.2" cy="1485.1" r="4.35"/><circle cx="221.5" cy="1489.5" r="4.35"/><circle cx="282.9" cy="1450.8" r="4.35"/><circle cx="281" cy="1490.7" r="4.35"/><circle cx="279.3" cy="1494.4" r="4.35"/><circle cx="277.3" cy="1499.3" r="4.35"/><circle cx="276.1" cy="1503" r="4.35"/><circle cx="208" cy="1529.9" r="4.35"/><circle cx="271.2" cy="1529.9" r="4.35"/><circle cx="268.2" cy="1550.7" r="4.35"/><circle cx="266.3" cy="1567.8" r="4.35"/><circle cx="263.1" cy="1590.6" r="4.35"/><circle cx="260.9" cy="1609" r="4.35"/><circle cx="343.4" cy="1512.8" r="4.35"/><circle cx="339.7" cy="1516.4" r="4.35"/><circle cx="336" cy="1517.7" r="4.35"/><circle cx="334.1" cy="1526.2" r="4.35"/><circle cx="331.6" cy="1532.4" r="4.35"/><circle cx="329.9" cy="1538.5" r="4.35"/><circle cx="326.3" cy="1547" r="4.35"/><circle cx="323.8" cy="1556.8" r="4.35"/><circle cx="321.4" cy="1566.1" r="4.35"/><circle cx="318.9" cy="1601.6" r="4.35"/><circle cx="381.3" cy="1493.2" r="4.35"/><circle cx="385" cy="1492.7" r="4.35"/><circle cx="388.7" cy="1492" r="4.35"/><circle cx="392.4" cy="1490.2" r="4.35"/><circle cx="396" cy="1488.3" r="4.35"/><circle cx="399.7" cy="1485.8" r="4.35"/><circle cx="402.1" cy="1482.9" r="4.35"/><circle cx="404.6" cy="1479.7" r="4.35"/><circle cx="378.9" cy="1557.6" r="4.35"/><circle cx="286.4" cy="1623.7" r="4.35"/><circle cx="206.3" cy="1642.5" r="4.35"/><circle cx="225.9" cy="1641.3" r="4.35"/><circle cx="228.8" cy="1643.7" r="4.35"/><circle cx="232" cy="1645.4" r="4.35"/><circle cx="234.5" cy="1646.9" r="4.35"/><circle cx="288.3" cy="1648.6" r="4.35"/><circle cx="316.5" cy="1646.7" r="4.35"/><circle cx="312.8" cy="1657.2" r="4.35"/><circle cx="241.8" cy="1673.8" r="4.35"/><circle cx="245.5" cy="1672.4" r="4.35"/><circle cx="249.1" cy="1670.7" r="4.35"/><circle cx="255.3" cy="1668.2" r="4.35"/><circle cx="257.7" cy="1671.9" r="4.35"/><circle cx="290.8" cy="1675.6" r="4.35"/><circle cx="293.2" cy="1681.7" r="4.35"/><circle cx="295.7" cy="1686.6" r="4.35"/><circle cx="296.9" cy="1690.2" r="4.35"/><circle cx="300.6" cy="1684.1" r="4.35"/><circle cx="303" cy="1679.2" r="4.35"/><circle cx="305.4" cy="1675.6" r="4.35"/><circle cx="371.5" cy="1691.5" r="4.35"/><circle cx="374" cy="1687.8" r="4.35"/><circle cx="375.2" cy="1685.3" r="4.35"/><circle cx="370.3" cy="1695.1" r="4.35"/><circle cx="411.2" cy="1699.3" r="4.35"/><circle cx="198.2" cy="1703.7" r="4.35"/><circle cx="489" cy="1696.4" r="4.35"/><circle cx="487.8" cy="1701.3" r="4.35"/><circle cx="486.6" cy="1704.9" r="4.35"/><circle cx="498.8" cy="1663.3" r="4.35"/><circle cx="499.6" cy="1636.4" r="4.35"/><circle cx="585.3" cy="1295.4" r="4.35"/><circle cx="652.1" cy="1319.9" r="4.35"/><circle cx="672.2" cy="1348" r="4.35"/><circle cx="650.6" cy="1379.8" r="4.35"/><circle cx="675.1" cy="1383.8" r="4.35"/><circle cx="647.2" cy="1406.8" r="4.35"/><circle cx="677.6" cy="1406.8" r="4.35"/><circle cx="680" cy="1424.6" r="4.35"/><circle cx="682" cy="1436.9" r="4.35"/><circle cx="685.1" cy="1449.1" r="4.35"/><circle cx="734.6" cy="1299.8" r="4.35"/><circle cx="732.1" cy="1304.7" r="4.35"/><circle cx="730.2" cy="1310.8" r="4.35"/><circle cx="728" cy="1323.8" r="4.35"/><circle cx="725.5" cy="1340.2" r="4.35"/><circle cx="723.6" cy="1354.9" r="4.35"/><circle cx="720.6" cy="1364.7" r="4.35"/><circle cx="718.2" cy="1375.7" r="4.35"/><circle cx="715" cy="1391.6" r="4.35"/><circle cx="713.3" cy="1408" r="4.35"/><circle cx="710.1" cy="1426.6" r="4.35"/><circle cx="708.2" cy="1446.7" r="4.35"/><circle cx="704.7" cy="1465" r="4.35"/><circle cx="745.6" cy="1295.4" r="4.35"/><circle cx="765.2" cy="1295.4" r="4.35"/><circle cx="763.2" cy="1330.9" r="4.35"/><circle cx="760.3" cy="1383" r="4.35"/><circle cx="748.5" cy="1390.4" r="4.35"/><circle cx="757.8" cy="1398.4" r="4.35"/><circle cx="755.4" cy="1417.8" r="4.35"/><circle cx="752.9" cy="1430" r="4.35"/><circle cx="749.3" cy="1432" r="4.35"/><circle cx="635.4" cy="1487.1" r="4.35"/><circle cx="639.1" cy="1487.8" r="4.35"/><circle cx="642.8" cy="1489.5" r="4.35"/><circle cx="645.2" cy="1492" r="4.35"/><circle cx="641.6" cy="1494.4" r="4.35"/><circle cx="632.3" cy="1507.4" r="4.35"/><circle cx="582.3" cy="1509.6" r="4.35"/><circle cx="580.4" cy="1521.3" r="4.35"/><circle cx="577.2" cy="1542.6" r="4.35"/><circle cx="575" cy="1571.5" r="4.35"/><circle cx="572.3" cy="1605.8" r="4.35"/><circle cx="512.6" cy="1522.6" r="4.35"/><circle cx="509.4" cy="1543.9" r="4.35"/><circle cx="507.4" cy="1580.8" r="4.35"/><circle cx="504.5" cy="1615.6" r="4.35"/><circle cx="502" cy="1636.4" r="4.35"/><circle cx="524.1" cy="1632.7" r="4.35"/><circle cx="570.6" cy="1640.8" r="4.35"/><circle cx="629.8" cy="1605.8" r="4.35"/><circle cx="667.3" cy="1597.7" r="4.35"/><circle cx="670.5" cy="1611.4" r="4.35"/><circle cx="808.5" cy="1564.7" r="4.35"/><circle cx="805.1" cy="1580.8" r="4.35"/><circle cx="803.1" cy="1598.4" r="4.35"/><circle cx="800.2" cy="1613.9" r="4.35"/><circle cx="626.9" cy="1650.6" r="4.35"/><circle cx="624.4" cy="1662.1" r="4.35"/><circle cx="526.5" cy="1653.5" r="4.35"/><circle cx="528.5" cy="1657.2" r="4.35"/><circle cx="530.2" cy="1662.1" r="4.35"/><circle cx="532.6" cy="1665.8" r="4.35"/><circle cx="535.8" cy="1670.7" r="4.35"/><circle cx="538.8" cy="1675.6" r="4.35"/><circle cx="541.2" cy="1680.5" r="4.35"/><circle cx="544.1" cy="1683.6" r="4.35"/><circle cx="548.5" cy="1684.6" r="4.35"/><circle cx="553.4" cy="1685.3" r="4.35"/><circle cx="566.9" cy="1663.3" r="4.35"/><circle cx="564.5" cy="1665.8" r="4.35"/><circle cx="562" cy="1674.8" r="4.35"/><circle cx="619.5" cy="1686.6" r="4.35"/><circle cx="617.1" cy="1691.5" r="4.35"/><circle cx="613.4" cy="1692.7" r="4.35"/><circle cx="609.7" cy="1693.9" r="4.35"/><circle cx="606.1" cy="1691.5" r="4.35"/><circle cx="602.4" cy="1693.9" r="4.35"/><circle cx="607.3" cy="1697.6" r="4.35"/><circle cx="612.2" cy="1697.6" r="4.35"/><circle cx="595.1" cy="1697.6" r="4.35"/><circle cx="591.4" cy="1703.7" r="4.35"/><circle cx="590.2" cy="1706.2" r="4.35"/><circle cx="655" cy="1706.2" r="4.35"/><circle cx="740.2" cy="1692.7" r="4.35"/><circle cx="738.3" cy="1704.9" r="4.35"/><circle cx="828.8" cy="1651.1" r="4.35"/><circle cx="829.6" cy="1657.2" r="4.35"/><circle cx="1129.5" cy="1298.6" r="4.35"/><circle cx="1100.1" cy="1323.8" r="4.35"/><circle cx="1096.4" cy="1321.3" r="4.35"/><circle cx="1092.7" cy="1321.3" r="4.35"/><circle cx="1089.1" cy="1323" r="4.35"/><circle cx="1085.4" cy="1326.7" r="4.35"/><circle cx="1082.9" cy="1330.4" r="4.35"/><circle cx="1080.5" cy="1335.3" r="4.35"/><circle cx="1078.8" cy="1340.2" r="4.35"/><circle cx="1076.8" cy="1349.5" r="4.35"/><circle cx="1074.4" cy="1361.7" r="4.35"/><circle cx="1071.2" cy="1390.4" r="4.35"/><circle cx="1069" cy="1416.1" r="4.35"/><circle cx="1065.8" cy="1454.7" r="4.35"/><circle cx="1102.5" cy="1340.2" r="4.35"/><circle cx="1104.5" cy="1363.4" r="4.35"/><circle cx="1107.4" cy="1396" r="4.35"/><circle cx="1109.1" cy="1418.5" r="4.35"/><circle cx="1112.3" cy="1441" r="4.35"/><circle cx="1113.5" cy="1457.7" r="4.35"/><circle cx="1116" cy="1462.6" r="4.35"/><circle cx="1118.9" cy="1471.2" r="4.35"/><circle cx="1122.1" cy="1484.6" r="4.35"/><circle cx="1124.6" cy="1490.7" r="4.35"/><circle cx="1127.5" cy="1463.8" r="4.35"/><circle cx="1036.4" cy="1354.1" r="4.35"/><circle cx="1034.7" cy="1358.5" r="4.35"/><circle cx="1032.8" cy="1363.4" r="4.35"/><circle cx="1031.1" cy="1367.1" r="4.35"/><circle cx="1038.9" cy="1373.2" r="4.35"/><circle cx="1029.1" cy="1375.7" r="4.35"/><circle cx="1026.2" cy="1390.4" r="4.35"/><circle cx="1024.2" cy="1395.3" r="4.35"/><circle cx="1021.8" cy="1402.6" r="4.35"/><circle cx="1019.3" cy="1416.1" r="4.35"/><circle cx="1041.3" cy="1429" r="4.35"/><circle cx="1044.3" cy="1452.8" r="4.35"/><circle cx="1016.9" cy="1430.8" r="4.35"/><circle cx="1010.7" cy="1456.5" r="4.35"/><circle cx="1009.5" cy="1461.4" r="4.35"/><circle cx="1046.2" cy="1465" r="4.35"/><circle cx="1047.5" cy="1469.9" r="4.35"/><circle cx="1049.9" cy="1473.6" r="4.35"/><circle cx="1052.4" cy="1476" r="4.35"/><circle cx="1056" cy="1478" r="4.35"/><circle cx="1059.7" cy="1479" r="4.35"/><circle cx="1064.6" cy="1479.7" r="4.35"/><circle cx="969.1" cy="1422.2" r="4.35"/><circle cx="965.4" cy="1424.6" r="4.35"/><circle cx="961.8" cy="1428.3" r="4.35"/><circle cx="959.3" cy="1433.2" r="4.35"/><circle cx="956.9" cy="1436.9" r="4.35"/><circle cx="954.4" cy="1443" r="4.35"/><circle cx="972.8" cy="1423.4" r="4.35"/><circle cx="975.2" cy="1427.1" r="4.35"/><circle cx="980.1" cy="1456.5" r="4.35"/><circle cx="981.4" cy="1461.4" r="4.35"/><circle cx="983.8" cy="1471.2" r="4.35"/><circle cx="986.3" cy="1477.3" r="4.35"/><circle cx="988.7" cy="1482.2" r="4.35"/><circle cx="992.4" cy="1485.8" r="4.35"/><circle cx="996" cy="1485.8" r="4.35"/><circle cx="937.3" cy="1495.6" r="4.35"/><circle cx="942.2" cy="1493.2" r="4.35"/><circle cx="947.1" cy="1493.2" r="4.35"/><circle cx="943.4" cy="1505.4" r="4.35"/><circle cx="923.1" cy="1548.8" r="4.35"/><circle cx="881" cy="1571.5" r="4.35"/><circle cx="877.3" cy="1575.2" r="4.35"/><circle cx="874.9" cy="1580.1" r="4.35"/><circle cx="883.4" cy="1578.9" r="4.35"/><circle cx="872.4" cy="1588.7" r="4.35"/><circle cx="863.4" cy="1627.8" r="4.35"/><circle cx="886.4" cy="1637.6" r="4.35"/><circle cx="860.9" cy="1649.1" r="4.35"/><circle cx="834.5" cy="1659.6" r="4.35"/><circle cx="839.4" cy="1661.6" r="4.35"/><circle cx="844.3" cy="1663.3" r="4.35"/><circle cx="849.2" cy="1665.8" r="4.35"/><circle cx="854.1" cy="1668.2" r="4.35"/><circle cx="859" cy="1669.4" r="4.35"/><circle cx="888.3" cy="1646.2" r="4.35"/><circle cx="890.8" cy="1651.1" r="4.35"/><circle cx="894.5" cy="1654.7" r="4.35"/><circle cx="899.4" cy="1657.2" r="4.35"/><circle cx="904.2" cy="1656" r="4.35"/><circle cx="909.1" cy="1656.7" r="4.35"/><circle cx="914" cy="1659.6" r="4.35"/><circle cx="916.5" cy="1663.3" r="4.35"/><circle cx="918.9" cy="1665.8" r="4.35"/><circle cx="1133.1" cy="1704.9" r="4.35"/><circle cx="1134.4" cy="1700" r="4.35"/><circle cx="1136.8" cy="1696.4" r="4.35"/><circle cx="1140.5" cy="1693.9" r="4.35"/><circle cx="1145.4" cy="1693.4" r="4.35"/><circle cx="1150.3" cy="1693.9" r="4.35"/><circle cx="1158.8" cy="1669.4" r="4.35"/><circle cx="1220.8" cy="1299.3" r="4.35"/><circle cx="1280.3" cy="1298.6" r="4.35"/><circle cx="1316.3" cy="1298.6" r="4.35"/><circle cx="1315" cy="1301.8" r="4.35"/><circle cx="1250.2" cy="1316.4" r="4.35"/><circle cx="1282.5" cy="1313.3" r="4.35"/><circle cx="1312.1" cy="1314.5" r="4.35"/><circle cx="1319.9" cy="1310.8" r="4.35"/><circle cx="1321.6" cy="1314.5" r="4.35"/><circle cx="1323.6" cy="1318.2" r="4.35"/><circle cx="1325.6" cy="1322.3" r="4.35"/><circle cx="1327.3" cy="1341.9" r="4.35"/><circle cx="1330.5" cy="1365.9" r="4.35"/><circle cx="1285.2" cy="1361" r="4.35"/><circle cx="1310.6" cy="1376.9" r="4.35"/><circle cx="1222.5" cy="1395.3" r="4.35"/><circle cx="1333.4" cy="1396.5" r="4.35"/><circle cx="1335.8" cy="1411.2" r="4.35"/><circle cx="1338.3" cy="1414.8" r="4.35"/><circle cx="1286.9" cy="1419" r="4.35"/><circle cx="1340.2" cy="1432.7" r="4.35"/><circle cx="1343.2" cy="1446.7" r="4.35"/><circle cx="1345.1" cy="1456.5" r="4.35"/><circle cx="1348.1" cy="1468" r="4.35"/><circle cx="1187.2" cy="1441.8" r="4.35"/><circle cx="1224.9" cy="1445.9" r="4.35"/><circle cx="1227.4" cy="1466.7" r="4.35"/><circle cx="1290.1" cy="1457.7" r="4.35"/><circle cx="1355.4" cy="1479.7" r="4.35"/><circle cx="1360.3" cy="1478.5" r="4.35"/><circle cx="1364" cy="1477.3" r="4.35"/><circle cx="1366.4" cy="1479.7" r="4.35"/><circle cx="1368.9" cy="1480.9" r="4.35"/><circle cx="1234.2" cy="1493.2" r="4.35"/><circle cx="1237.9" cy="1494.4" r="4.35"/><circle cx="1241.6" cy="1494.4" r="4.35"/><circle cx="1245.3" cy="1492" r="4.35"/><circle cx="1247.7" cy="1489.5" r="4.35"/><circle cx="1296.7" cy="1484.6" r="4.35"/><circle cx="1299.1" cy="1488.3" r="4.35"/><circle cx="1301.6" cy="1492" r="4.35"/><circle cx="1304" cy="1489.5" r="4.35"/><circle cx="1307.7" cy="1485.8" r="4.35"/><circle cx="1184.1" cy="1509.8" r="4.35"/><circle cx="1182.1" cy="1528.7" r="4.35"/><circle cx="1177.2" cy="1600.2" r="4.35"/><circle cx="1174.3" cy="1621.2" r="4.35"/><circle cx="1171.8" cy="1633.9" r="4.35"/><circle cx="1167.4" cy="1637.6" r="4.35"/><circle cx="1164" cy="1648.1" r="4.35"/><circle cx="1162" cy="1668.9" r="4.35"/><circle cx="1189" cy="1657.7" r="4.35"/><circle cx="1192.1" cy="1668.9" r="4.35"/><circle cx="1428.4" cy="1309.6" r="4.35"/><circle cx="1450.9" cy="1296.9" r="4.35"/><circle cx="1458.2" cy="1298.6" r="4.35"/><circle cx="1465.6" cy="1297.8" r="4.35"/><circle cx="1403.2" cy="1319.4" r="4.35"/><circle cx="1399.5" cy="1321.8" r="4.35"/><circle cx="1397" cy="1325.5" r="4.35"/><circle cx="1394.6" cy="1329.2" r="4.35"/><circle cx="1393.4" cy="1332.8" r="4.35"/><circle cx="1405.6" cy="1323" r="4.35"/><circle cx="1408.1" cy="1327.9" r="4.35"/><circle cx="1410.5" cy="1332.8" r="4.35"/><circle cx="1390.9" cy="1341.4" r="4.35"/><circle cx="1388.5" cy="1345.1" r="4.35"/><circle cx="1384.8" cy="1347.5" r="4.35"/><circle cx="1381.1" cy="1346.3" r="4.35"/><circle cx="1378.7" cy="1348.8" r="4.35"/><circle cx="1386" cy="1351.2" r="4.35"/><circle cx="1375.5" cy="1362.7" r="4.35"/><circle cx="1413.4" cy="1355.6" r="4.35"/><circle cx="1415.4" cy="1387.9" r="4.35"/><circle cx="1373" cy="1398.9" r="4.35"/><circle cx="1370.1" cy="1423.9" r="4.35"/><circle cx="1417.8" cy="1404.6" r="4.35"/><circle cx="1421.5" cy="1407.5" r="4.35"/><circle cx="1425.2" cy="1410" r="4.35"/><circle cx="1422.7" cy="1418.5" r="4.35"/><circle cx="1420.3" cy="1422.2" r="4.35"/><circle cx="1478.3" cy="1374" r="4.35"/><circle cx="1487.6" cy="1407" r="4.35"/><circle cx="1481.5" cy="1430" r="4.35"/><circle cx="1483.5" cy="1456.5" r="4.35"/><circle cx="1485.7" cy="1471.2" r="4.35"/><circle cx="1252.6" cy="1691.5" r="4.35"/><circle cx="1256.3" cy="1687.8" r="4.35"/><circle cx="1260" cy="1686.6" r="4.35"/><circle cx="1263.6" cy="1690.2" r="4.35"/><circle cx="1266.1" cy="1693.9" r="4.35"/><circle cx="1269.7" cy="1696.4" r="4.35"/><circle cx="1273.4" cy="1700" r="4.35"/><circle cx="1277.1" cy="1703.2" r="4.35"/><circle cx="1198.8" cy="1699.3" r="4.35"/><circle cx="1202.4" cy="1702.5" r="4.35"/><circle cx="1206.1" cy="1703.7" r="4.35"/><circle cx="1211" cy="1701.3" r="4.35"/><circle cx="1215.9" cy="1699.3" r="4.35"/><circle cx="1218.3" cy="1698.3" r="4.35"/><circle cx="1438.7" cy="1701.3" r="4.35"/><circle cx="1443.5" cy="1703.7" r="4.35"/><circle cx="1447.2" cy="1706.2" r="4.35"/><circle cx="1452.1" cy="1706.2" r="4.35"/><circle cx="1457" cy="1704.9" r="4.35"/><circle cx="1460.7" cy="1703.7" r="4.35"/><circle cx="1470.5" cy="1698.8" r="4.35"/><circle cx="1491.5" cy="1296.1" r="4.35"/><circle cx="1531.2" cy="1348" r="4.35"/><circle cx="1533.2" cy="1363.4" r="4.35"/><circle cx="1536.6" cy="1363.4" r="4.35"/><circle cx="1538.5" cy="1383" r="4.35"/><circle cx="1545.9" cy="1408.7" r="4.35"/><circle cx="1543.4" cy="1413.6" r="4.35"/><circle cx="1541" cy="1417.3" r="4.35"/><circle cx="1569.1" cy="1306.6" r="4.35"/><circle cx="1565.5" cy="1308.4" r="4.35"/><circle cx="1562.5" cy="1310.8" r="4.35"/><circle cx="1560.6" cy="1316.9" r="4.35"/><circle cx="1558.1" cy="1323.8" r="4.35"/><circle cx="1556.2" cy="1334.1" r="4.35"/><circle cx="1553.7" cy="1341.9" r="4.35"/><circle cx="1551.3" cy="1354.1" r="4.35"/><circle cx="1548.3" cy="1362.7" r="4.35"/><circle cx="1576.5" cy="1296.1" r="4.35"/><circle cx="1580.2" cy="1299.8" r="4.35"/><circle cx="1582.6" cy="1303.5" r="4.35"/><circle cx="1583.1" cy="1315.7" r="4.35"/><circle cx="1586.3" cy="1344.6" r="4.35"/><circle cx="1589.2" cy="1368.3" r="4.35"/><circle cx="1591.2" cy="1376.2" r="4.35"/><circle cx="1593.6" cy="1385.5" r="4.35"/><circle cx="1596.1" cy="1389.1" r="4.35"/><circle cx="1599.7" cy="1392.8" r="4.35"/><circle cx="1603.4" cy="1396.5" r="4.35"/><circle cx="1608.3" cy="1397.7" r="4.35"/><circle cx="1626.7" cy="1296.9" r="4.35"/><circle cx="1631.6" cy="1299.8" r="4.35"/><circle cx="1635.2" cy="1303.5" r="4.35"/><circle cx="1636.5" cy="1309.6" r="4.35"/><circle cx="1640.1" cy="1312" r="4.35"/><circle cx="1642.6" cy="1314.5" r="4.35"/><circle cx="1646.3" cy="1316.9" r="4.35"/><circle cx="1649.9" cy="1319.4" r="4.35"/><circle cx="1651.6" cy="1321.8" r="4.35"/><circle cx="1649.9" cy="1313.3" r="4.35"/><circle cx="1671.2" cy="1314.5" r="4.35"/><circle cx="1674.4" cy="1313.3" r="4.35"/><circle cx="1676.9" cy="1304.7" r="4.35"/><circle cx="1679.3" cy="1301" r="4.35"/><circle cx="1683" cy="1302.2" r="4.35"/><circle cx="1685.4" cy="1305.9" r="4.35"/><circle cx="1687.9" cy="1309.6" r="4.35"/><circle cx="1691.5" cy="1312" r="4.35"/><circle cx="1695.2" cy="1312.5" r="4.35"/><circle cx="1700.1" cy="1312" r="4.35"/><circle cx="1703.8" cy="1310.8" r="4.35"/><circle cx="1707.5" cy="1308.4" r="4.35"/><circle cx="1709.9" cy="1304.7" r="4.35"/><circle cx="1712.4" cy="1302.2" r="4.35"/><circle cx="1654.1" cy="1398.9" r="4.35"/><circle cx="1656.5" cy="1433.7" r="4.35"/><circle cx="1659" cy="1449.1" r="4.35"/><circle cx="1661.4" cy="1452.8" r="4.35"/><circle cx="1664.6" cy="1463.3" r="4.35"/><circle cx="1665.8" cy="1476" r="4.35"/><circle cx="1669.5" cy="1476" r="4.35"/><circle cx="1714.8" cy="1332.1" r="4.35"/><circle cx="1717.2" cy="1408.2" r="4.35"/><circle cx="1719" cy="1445.4" r="4.35"/><circle cx="1729.5" cy="1450.8" r="4.35"/><circle cx="1722.1" cy="1459.4" r="4.35"/><circle cx="1723.9" cy="1471.2" r="4.35"/><circle cx="1725.8" cy="1474.8" r="4.35"/><circle cx="1727.8" cy="1478.5" r="4.35"/><circle cx="1731.9" cy="1316.4" r="4.35"/><circle cx="1734.4" cy="1302.2" r="4.35"/><circle cx="1736.8" cy="1298.6" r="4.35"/><circle cx="1739.3" cy="1296.1" r="4.35"/><circle cx="1756.4" cy="1296.1" r="4.35"/><circle cx="1760.1" cy="1298.6" r="4.35"/><circle cx="1762.5" cy="1302.2" r="4.35"/><circle cx="1766.2" cy="1305.9" r="4.35"/><circle cx="1769.9" cy="1309.6" r="4.35"/><circle cx="1773.5" cy="1312.5" r="4.35"/><circle cx="1774.3" cy="1351.9" r="4.35"/><circle cx="1777.5" cy="1408" r="4.35"/><circle cx="1779.7" cy="1444.7" r="4.35"/><circle cx="1782.6" cy="1465" r="4.35"/><circle cx="1784.6" cy="1483.4" r="4.35"/><circle cx="1788.2" cy="1485.8" r="4.35"/><circle cx="1810.3" cy="1307.1" r="4.35"/><circle cx="1808.3" cy="1312" r="4.35"/><circle cx="1806.6" cy="1316.4" r="4.35"/><circle cx="1804.6" cy="1320.6" r="4.35"/><circle cx="1802.4" cy="1324.3" r="4.35"/><circle cx="1799.3" cy="1330.9" r="4.35"/><circle cx="1797.5" cy="1343.9" r="4.35"/><circle cx="1794.4" cy="1359" r="4.35"/><circle cx="1792.4" cy="1378.9" r="4.35"/><circle cx="1512.8" cy="1681.7" r="4.35"/><circle cx="1519" cy="1680.5" r="4.35"/><circle cx="1515.3" cy="1684.1" r="4.35"/><circle cx="1496.9" cy="1703.7" r="4.35"/><circle cx="1501.8" cy="1704.9" r="4.35"/><circle cx="1492" cy="1706.2" r="4.35"/><circle cx="1528.8" cy="1701.3" r="4.35"/><circle cx="1614.4" cy="1685.3" r="4.35"/><circle cx="1612" cy="1692.7" r="4.35"/><circle cx="1618.1" cy="1697.6" r="4.35"/><circle cx="1620.6" cy="1701.3" r="4.35"/><circle cx="1624.2" cy="1704.9" r="4.35"/><circle cx="1572.8" cy="1706.2" r="4.35"/><circle cx="1746.6" cy="1702.5" r="4.35"/><circle cx="1742.9" cy="1704.9" r="4.35"/><circle cx="1751.5" cy="1704.9" r="4.35"/><circle cx="1817.6" cy="1686.6" r="4.35"/><circle cx="1815.2" cy="1691.5" r="4.35"/><circle cx="1812.7" cy="1697.6" r="4.35"/><circle cx="1846.5" cy="1520.1" r="4.35"/><circle cx="1844.1" cy="1522.6" r="4.35"/><circle cx="1841.6" cy="1525" r="4.35"/><circle cx="1839.7" cy="1528.7" r="4.35"/><circle cx="1837.9" cy="1532.4" r="4.35"/><circle cx="1834.3" cy="1542.1" r="4.35"/><circle cx="1833" cy="1547" r="4.35"/><circle cx="1831.8" cy="1551.9" r="4.35"/><circle cx="1829.4" cy="1575.2" r="4.35"/><circle cx="1826.9" cy="1607" r="4.35"/><circle cx="1824.5" cy="1641.8" r="4.35"/><circle cx="1852.1" cy="1640.6" r="4.35"/><circle cx="1895.5" cy="1633.5" r="4.35"/><circle cx="1902.8" cy="1600.9" r="4.35"/><circle cx="1900.4" cy="1604.6" r="4.35"/><circle cx="1904" cy="1605.8" r="4.35"/><circle cx="1897.2" cy="1614.8" r="4.35"/><circle cx="1907.7" cy="1614.8" r="4.35"/><circle cx="1911.4" cy="1616.8" r="4.35"/><circle cx="1915.1" cy="1618" r="4.35"/><circle cx="1917.5" cy="1615.6" r="4.35"/><circle cx="1915.1" cy="1621.7" r="4.35"/><circle cx="1926.8" cy="1619.7" r="4.35"/><circle cx="1945.7" cy="1613.6" r="4.35"/><circle cx="1920" cy="1596" r="4.35"/><circle cx="1924.8" cy="1594.8" r="4.35"/><circle cx="1962.8" cy="1526.2" r="4.35"/><circle cx="1959.1" cy="1528.7" r="4.35"/><circle cx="1965.2" cy="1528.7" r="4.35"/><circle cx="1960.3" cy="1531.1" r="4.35"/><circle cx="1967.7" cy="1539.7" r="4.35"/><circle cx="1957.4" cy="1544.6" r="4.35"/><circle cx="1954.7" cy="1553.2" r="4.35"/><circle cx="1970.6" cy="1598.4" r="4.35"/><circle cx="2009.3" cy="1461.4" r="4.35"/><circle cx="2011.8" cy="1466.3" r="4.35"/><circle cx="2013" cy="1471.2" r="4.35"/><circle cx="2014.9" cy="1474.8" r="4.35"/><circle cx="2016.6" cy="1479" r="4.35"/><circle cx="2019.1" cy="1483.4" r="4.35"/><circle cx="2008.6" cy="1657.7" r="4.35"/><circle cx="2004.4" cy="1669.4" r="4.35"/><circle cx="2000.7" cy="1670.7" r="4.35"/><circle cx="1998.3" cy="1667" r="4.35"/><circle cx="1982.4" cy="1648.6" r="4.35"/><circle cx="1986" cy="1652.3" r="4.35"/><circle cx="1819.6" cy="1679.2" r="4.35"/><circle cx="1813.5" cy="1695.1" r="4.35"/><circle cx="1857.5" cy="1671.9" r="4.35"/><circle cx="1860" cy="1676.8" r="4.35"/><circle cx="1863.6" cy="1678" r="4.35"/><circle cx="1868.5" cy="1679.2" r="4.35"/><circle cx="1873.4" cy="1681.7" r="4.35"/><circle cx="1878.3" cy="1681.7" r="4.35"/><circle cx="1883.2" cy="1679.2" r="4.35"/><circle cx="1885.7" cy="1676.8" r="4.35"/><circle cx="1886.9" cy="1668.2" r="4.35"/><circle cx="1910.2" cy="1689.8" r="4.35"/></g>
<polyline points="155.5,1558.1 195.8,1558.1 256.1,1519.6 316.3,1515.4 376.6,1471.5 436.8,1410.7 497.1,1516.9 557.3,1465.7 617.5,1460.5 677.8,1449.8 738,1509.3 798.3,1481.8 858.5,1377.1 918.8,1347.5 979,1382.6 1039.3,1489.5 1099.5,1533.7 1159.8,1481.8 1220,1483.4 1280.3,1469 1340.5,1481.8 1400.8,1535.3 1461,1496.5 1521.3,1515.4 1581.5,1526.7 1641.8,1478.8 1702,1529.1 1762.3,1503.2 1822.5,1518.5 1882.8,1458.3 1943,1524 1987.7,1451.3 1993.8,1426.9 2020.5,1426.9" fill="none" stroke="#f6f8fa" stroke-width="14.5" stroke-linejoin="miter"/>
<polyline points="155.5,1681.8 195.8,1681.8 256.1,1652.8 316.3,1671.1 376.6,1672.6 436.8,1626.8 497.1,1689.4 557.3,1698.6 617.5,1669.6 677.8,1694 738,1681.8 798.3,1626.8 858.5,1607 918.8,1628.4 979,1526.7 1039.3,1626.8 1099.5,1652.8 1159.8,1690.9 1220,1687.3 1280.3,1663.5 1340.5,1640.6 1400.8,1687 1461,1689.4 1521.3,1694 1581.5,1646.7 1641.8,1675.7 1702,1687.6 1762.3,1669.6 1822.5,1661.9 1882.8,1658.9 1943,1631.4 1987.7,1669.6 1993.8,1683.9 2020.5,1683.9" fill="none" stroke="#f6f8fa" stroke-width="14.5" stroke-linejoin="miter"/>
<path d="M155.5 1617.7 L193.8 1617.7 Q195.8 1617.7 198.8 1615.8 L253 1582 Q256.1 1580.1 259.1 1580.1 L313.3 1581 Q316.3 1581 319.3 1580.8 L373.5 1577.6 Q376.6 1577.4 379.6 1574.7 L433.8 1525.7 Q436.8 1523 439.8 1527.2 L494 1603.3 Q497.1 1607.5 500.1 1606.3 L554.3 1585.3 Q557.3 1584.1 560.3 1583.8 L614.5 1578.3 Q617.5 1578 620.6 1577.2 L674.8 1562.9 Q677.8 1562.1 680.8 1563.6 L735 1590.2 Q738 1591.7 741.1 1589.6 L795.3 1552.6 Q798.3 1550.5 801.3 1548.7 L855.5 1515.3 Q858.5 1513.5 861.6 1512.4 L915.8 1492.6 Q918.8 1491.5 921.8 1488.7 L976 1438.8 Q979 1436 982.1 1442 L1036.3 1549.1 Q1039.3 1555.1 1042.3 1557.1 L1096.5 1592.8 Q1099.5 1594.8 1102.6 1593.8 L1156.8 1575.9 Q1159.8 1574.9 1162.8 1574.1 L1217 1558.9 Q1220 1558.1 1223.1 1557.3 L1277.3 1542.2 Q1280.3 1541.4 1283.3 1540.4 L1337.5 1522.5 Q1340.5 1521.5 1343.6 1526.2 L1397.8 1611.4 Q1400.8 1616.1 1403.8 1614.9 L1458 1592.9 Q1461 1591.7 1464.1 1592.8 L1518.3 1613.5 Q1521.3 1614.6 1524.3 1613.5 L1578.5 1594.3 Q1581.5 1593.2 1584.6 1592.2 L1638.8 1574.4 Q1641.8 1573.4 1644.8 1574.6 L1699 1596.6 Q1702 1597.8 1705.1 1596.7 L1759.3 1577.6 Q1762.3 1576.5 1765.3 1577.6 L1819.5 1598.3 Q1822.5 1599.4 1825.6 1597.4 L1879.8 1561.7 Q1882.8 1559.7 1885.8 1561.2 L1940 1587.2 Q1943 1588.7 1945.3 1586 L1987.7 1535.3 L1993.8 1516.9 L2020.5 1516.9" fill="none" stroke="#f6f8fa" stroke-width="14.5"/>
<polyline points="155.5,1558.1 195.8,1558.1 256.1,1519.6 316.3,1515.4 376.6,1471.5 436.8,1410.7 497.1,1516.9 557.3,1465.7 617.5,1460.5 677.8,1449.8 738,1509.3 798.3,1481.8 858.5,1377.1 918.8,1347.5 979,1382.6 1039.3,1489.5 1099.5,1533.7 1159.8,1481.8 1220,1483.4 1280.3,1469 1340.5,1481.8 1400.8,1535.3 1461,1496.5 1521.3,1515.4 1581.5,1526.7 1641.8,1478.8 1702,1529.1 1762.3,1503.2 1822.5,1518.5 1882.8,1458.3 1943,1524 1987.7,1451.3 1993.8,1426.9 2020.5,1426.9" fill="none" stroke="#3e7272" stroke-width="7.1" stroke-linejoin="miter"/>
<polyline points="155.5,1681.8 195.8,1681.8 256.1,1652.8 316.3,1671.1 376.6,1672.6 436.8,1626.8 497.1,1689.4 557.3,1698.6 617.5,1669.6 677.8,1694 738,1681.8 798.3,1626.8 858.5,1607 918.8,1628.4 979,1526.7 1039.3,1626.8 1099.5,1652.8 1159.8,1690.9 1220,1687.3 1280.3,1663.5 1340.5,1640.6 1400.8,1687 1461,1689.4 1521.3,1694 1581.5,1646.7 1641.8,1675.7 1702,1687.6 1762.3,1669.6 1822.5,1661.9 1882.8,1658.9 1943,1631.4 1987.7,1669.6 1993.8,1683.9 2020.5,1683.9" fill="none" stroke="#3e7272" stroke-width="7.1" stroke-linejoin="miter"/>
<path d="M155.5 1617.7 L193.8 1617.7 Q195.8 1617.7 198.8 1615.8 L253 1582 Q256.1 1580.1 259.1 1580.1 L313.3 1581 Q316.3 1581 319.3 1580.8 L373.5 1577.6 Q376.6 1577.4 379.6 1574.7 L433.8 1525.7 Q436.8 1523 439.8 1527.2 L494 1603.3 Q497.1 1607.5 500.1 1606.3 L554.3 1585.3 Q557.3 1584.1 560.3 1583.8 L614.5 1578.3 Q617.5 1578 620.6 1577.2 L674.8 1562.9 Q677.8 1562.1 680.8 1563.6 L735 1590.2 Q738 1591.7 741.1 1589.6 L795.3 1552.6 Q798.3 1550.5 801.3 1548.7 L855.5 1515.3 Q858.5 1513.5 861.6 1512.4 L915.8 1492.6 Q918.8 1491.5 921.8 1488.7 L976 1438.8 Q979 1436 982.1 1442 L1036.3 1549.1 Q1039.3 1555.1 1042.3 1557.1 L1096.5 1592.8 Q1099.5 1594.8 1102.6 1593.8 L1156.8 1575.9 Q1159.8 1574.9 1162.8 1574.1 L1217 1558.9 Q1220 1558.1 1223.1 1557.3 L1277.3 1542.2 Q1280.3 1541.4 1283.3 1540.4 L1337.5 1522.5 Q1340.5 1521.5 1343.6 1526.2 L1397.8 1611.4 Q1400.8 1616.1 1403.8 1614.9 L1458 1592.9 Q1461 1591.7 1464.1 1592.8 L1518.3 1613.5 Q1521.3 1614.6 1524.3 1613.5 L1578.5 1594.3 Q1581.5 1593.2 1584.6 1592.2 L1638.8 1574.4 Q1641.8 1573.4 1644.8 1574.6 L1699 1596.6 Q1702 1597.8 1705.1 1596.7 L1759.3 1577.6 Q1762.3 1576.5 1765.3 1577.6 L1819.5 1598.3 Q1822.5 1599.4 1825.6 1597.4 L1879.8 1561.7 Q1882.8 1559.7 1885.8 1561.2 L1940 1587.2 Q1943 1588.7 1945.3 1586 L1987.7 1535.3 L1993.8 1516.9 L2020.5 1516.9" fill="none" stroke="#3e7272" stroke-width="7.4" stroke-dasharray="7 6"/>
<line x1="193.8" y1="1709.9" x2="2020.5" y2="1709.9" stroke="#000" stroke-width="2" stroke-dasharray="7.8 6.2"/>
<line x1="193.8" y1="1606.3" x2="2020.5" y2="1606.3" stroke="#000" stroke-width="2" stroke-dasharray="7.8 6.2"/>
<line x1="193.8" y1="1502.7" x2="2020.5" y2="1502.7" stroke="#000" stroke-width="2" stroke-dasharray="7.8 6.2"/>
<line x1="193.8" y1="1399.1" x2="2020.5" y2="1399.1" stroke="#000" stroke-width="2" stroke-dasharray="7.8 6.2"/>
<line x1="155.5" y1="1709.9" x2="184" y2="1709.9" stroke="#000" stroke-width="2.4" />
<line x1="155.5" y1="1709.9" x2="194" y2="1709.9" stroke="#3e7272" stroke-width="2" />
<line x1="155.5" y1="1699.5" x2="184" y2="1699.5" stroke="#000" stroke-width="2.4" />
<line x1="155.5" y1="1699.5" x2="176.5" y2="1699.5" stroke="#3e7272" stroke-width="2" />
<line x1="155.5" y1="1689.2" x2="184" y2="1689.2" stroke="#000" stroke-width="2.4" />
<line x1="155.5" y1="1689.2" x2="176.5" y2="1689.2" stroke="#3e7272" stroke-width="2" />
<line x1="155.5" y1="1678.8" x2="184" y2="1678.8" stroke="#000" stroke-width="2.4" />
<line x1="155.5" y1="1678.8" x2="176.5" y2="1678.8" stroke="#3e7272" stroke-width="2" />
<line x1="155.5" y1="1668.5" x2="184" y2="1668.5" stroke="#000" stroke-width="2.4" />
<line x1="155.5" y1="1668.5" x2="176.5" y2="1668.5" stroke="#3e7272" stroke-width="2" />
<line x1="155.5" y1="1658.1" x2="184" y2="1658.1" stroke="#000" stroke-width="2.4" />
<line x1="155.5" y1="1658.1" x2="176.5" y2="1658.1" stroke="#3e7272" stroke-width="2" />
<line x1="155.5" y1="1647.7" x2="184" y2="1647.7" stroke="#000" stroke-width="2.4" />
<line x1="155.5" y1="1647.7" x2="176.5" y2="1647.7" stroke="#3e7272" stroke-width="2" />
<line x1="155.5" y1="1637.4" x2="184" y2="1637.4" stroke="#000" stroke-width="2.4" />
<line x1="155.5" y1="1637.4" x2="176.5" y2="1637.4" stroke="#3e7272" stroke-width="2" />
<line x1="155.5" y1="1627" x2="184" y2="1627" stroke="#000" stroke-width="2.4" />
<line x1="155.5" y1="1627" x2="176.5" y2="1627" stroke="#3e7272" stroke-width="2" />
<line x1="155.5" y1="1616.7" x2="184" y2="1616.7" stroke="#000" stroke-width="2.4" />
<line x1="155.5" y1="1616.7" x2="176.5" y2="1616.7" stroke="#3e7272" stroke-width="2" />
<line x1="155.5" y1="1606.3" x2="184" y2="1606.3" stroke="#000" stroke-width="2.4" />
<line x1="155.5" y1="1606.3" x2="194" y2="1606.3" stroke="#3e7272" stroke-width="2" />
<line x1="155.5" y1="1595.9" x2="184" y2="1595.9" stroke="#000" stroke-width="2.4" />
<line x1="155.5" y1="1595.9" x2="176.5" y2="1595.9" stroke="#3e7272" stroke-width="2" />
<line x1="155.5" y1="1585.6" x2="184" y2="1585.6" stroke="#000" stroke-width="2.4" />
<line x1="155.5" y1="1585.6" x2="176.5" y2="1585.6" stroke="#3e7272" stroke-width="2" />
<line x1="155.5" y1="1575.2" x2="184" y2="1575.2" stroke="#000" stroke-width="2.4" />
<line x1="155.5" y1="1575.2" x2="176.5" y2="1575.2" stroke="#3e7272" stroke-width="2" />
<line x1="155.5" y1="1564.9" x2="184" y2="1564.9" stroke="#000" stroke-width="2.4" />
<line x1="155.5" y1="1564.9" x2="176.5" y2="1564.9" stroke="#3e7272" stroke-width="2" />
<line x1="155.5" y1="1554.5" x2="184" y2="1554.5" stroke="#000" stroke-width="2.4" />
<line x1="155.5" y1="1554.5" x2="176.5" y2="1554.5" stroke="#3e7272" stroke-width="2" />
<line x1="155.5" y1="1544.1" x2="184" y2="1544.1" stroke="#000" stroke-width="2.4" />
<line x1="155.5" y1="1544.1" x2="176.5" y2="1544.1" stroke="#3e7272" stroke-width="2" />
<line x1="155.5" y1="1533.8" x2="184" y2="1533.8" stroke="#000" stroke-width="2.4" />
<line x1="155.5" y1="1533.8" x2="176.5" y2="1533.8" stroke="#3e7272" stroke-width="2" />
<line x1="155.5" y1="1523.4" x2="184" y2="1523.4" stroke="#000" stroke-width="2.4" />
<line x1="155.5" y1="1523.4" x2="176.5" y2="1523.4" stroke="#3e7272" stroke-width="2" />
<line x1="155.5" y1="1513.1" x2="184" y2="1513.1" stroke="#000" stroke-width="2.4" />
<line x1="155.5" y1="1513.1" x2="176.5" y2="1513.1" stroke="#3e7272" stroke-width="2" />
<line x1="155.5" y1="1502.7" x2="184" y2="1502.7" stroke="#000" stroke-width="2.4" />
<line x1="155.5" y1="1502.7" x2="194" y2="1502.7" stroke="#3e7272" stroke-width="2" />
<line x1="155.5" y1="1492.3" x2="184" y2="1492.3" stroke="#000" stroke-width="2.4" />
<line x1="155.5" y1="1492.3" x2="176.5" y2="1492.3" stroke="#3e7272" stroke-width="2" />
<line x1="155.5" y1="1482" x2="184" y2="1482" stroke="#000" stroke-width="2.4" />
<line x1="155.5" y1="1482" x2="176.5" y2="1482" stroke="#3e7272" stroke-width="2" />
<line x1="155.5" y1="1471.6" x2="184" y2="1471.6" stroke="#000" stroke-width="2.4" />
<line x1="155.5" y1="1471.6" x2="176.5" y2="1471.6" stroke="#3e7272" stroke-width="2" />
<line x1="155.5" y1="1461.3" x2="184" y2="1461.3" stroke="#000" stroke-width="2.4" />
<line x1="155.5" y1="1461.3" x2="176.5" y2="1461.3" stroke="#3e7272" stroke-width="2" />
<line x1="155.5" y1="1450.9" x2="184" y2="1450.9" stroke="#000" stroke-width="2.4" />
<line x1="155.5" y1="1450.9" x2="176.5" y2="1450.9" stroke="#3e7272" stroke-width="2" />
<line x1="155.5" y1="1440.5" x2="184" y2="1440.5" stroke="#000" stroke-width="2.4" />
<line x1="155.5" y1="1440.5" x2="176.5" y2="1440.5" stroke="#3e7272" stroke-width="2" />
<line x1="155.5" y1="1430.2" x2="184" y2="1430.2" stroke="#000" stroke-width="2.4" />
<line x1="155.5" y1="1430.2" x2="176.5" y2="1430.2" stroke="#3e7272" stroke-width="2" />
<line x1="155.5" y1="1419.8" x2="184" y2="1419.8" stroke="#000" stroke-width="2.4" />
<line x1="155.5" y1="1419.8" x2="176.5" y2="1419.8" stroke="#3e7272" stroke-width="2" />
<line x1="155.5" y1="1409.5" x2="184" y2="1409.5" stroke="#000" stroke-width="2.4" />
<line x1="155.5" y1="1409.5" x2="176.5" y2="1409.5" stroke="#3e7272" stroke-width="2" />
<line x1="155.5" y1="1399.1" x2="184" y2="1399.1" stroke="#000" stroke-width="2.4" />
<line x1="155.5" y1="1399.1" x2="194" y2="1399.1" stroke="#3e7272" stroke-width="2" />
<line x1="155.5" y1="1388.7" x2="184" y2="1388.7" stroke="#000" stroke-width="2.4" />
<line x1="155.5" y1="1388.7" x2="176.5" y2="1388.7" stroke="#3e7272" stroke-width="2" />
<line x1="155.5" y1="1378.4" x2="184" y2="1378.4" stroke="#000" stroke-width="2.4" />
<line x1="155.5" y1="1378.4" x2="176.5" y2="1378.4" stroke="#3e7272" stroke-width="2" />
<line x1="155.5" y1="1368" x2="184" y2="1368" stroke="#000" stroke-width="2.4" />
<line x1="155.5" y1="1368" x2="176.5" y2="1368" stroke="#3e7272" stroke-width="2" />
<line x1="155.5" y1="1357.7" x2="184" y2="1357.7" stroke="#000" stroke-width="2.4" />
<line x1="155.5" y1="1357.7" x2="176.5" y2="1357.7" stroke="#3e7272" stroke-width="2" />
<line x1="155.5" y1="1347.3" x2="184" y2="1347.3" stroke="#000" stroke-width="2.4" />
<line x1="155.5" y1="1347.3" x2="176.5" y2="1347.3" stroke="#3e7272" stroke-width="2" />
<line x1="155.5" y1="1336.9" x2="184" y2="1336.9" stroke="#000" stroke-width="2.4" />
<line x1="155.5" y1="1336.9" x2="176.5" y2="1336.9" stroke="#3e7272" stroke-width="2" />
<line x1="155.5" y1="1326.6" x2="184" y2="1326.6" stroke="#000" stroke-width="2.4" />
<line x1="155.5" y1="1326.6" x2="176.5" y2="1326.6" stroke="#3e7272" stroke-width="2" />
<line x1="155.5" y1="1316.2" x2="184" y2="1316.2" stroke="#000" stroke-width="2.4" />
<line x1="155.5" y1="1316.2" x2="176.5" y2="1316.2" stroke="#3e7272" stroke-width="2" />
<line x1="155.5" y1="1305.9" x2="184" y2="1305.9" stroke="#000" stroke-width="2.4" />
<line x1="155.5" y1="1305.9" x2="176.5" y2="1305.9" stroke="#3e7272" stroke-width="2" />
<line x1="155.5" y1="1295.5" x2="184" y2="1295.5" stroke="#000" stroke-width="2.4" />
<line x1="155.5" y1="1295.5" x2="194" y2="1295.5" stroke="#3e7272" stroke-width="2" />
<line x1="155.5" y1="1294.6" x2="155.5" y2="1710.9" stroke="#3e7272" stroke-width="3" />
<line x1="154.5" y1="1296" x2="2022" y2="1296" stroke="#000" stroke-width="2.2" />
<line x1="203.6" y1="1295.6" x2="203.6" y2="1300.1" stroke="#000" stroke-width="2.4" />
<line x1="263.9" y1="1295.6" x2="263.9" y2="1303.6" stroke="#000" stroke-width="2.4" />
<text x="263.9" y="1278.3" font-size="28.5" fill="#000" stroke="#000" stroke-width="0.5" text-anchor="middle" >02</text>
<line x1="324.1" y1="1295.6" x2="324.1" y2="1300.1" stroke="#000" stroke-width="2.4" />
<line x1="384.4" y1="1295.6" x2="384.4" y2="1303.6" stroke="#000" stroke-width="2.4" />
<text x="384.4" y="1278.3" font-size="28.5" fill="#000" stroke="#000" stroke-width="0.5" text-anchor="middle" >04</text>
<line x1="444.6" y1="1295.6" x2="444.6" y2="1300.1" stroke="#000" stroke-width="2.4" />
<line x1="504.9" y1="1295.6" x2="504.9" y2="1303.6" stroke="#000" stroke-width="2.4" />
<text x="504.9" y="1278.3" font-size="28.5" fill="#000" stroke="#000" stroke-width="0.5" text-anchor="middle" >06</text>
<line x1="565.1" y1="1295.6" x2="565.1" y2="1300.1" stroke="#000" stroke-width="2.4" />
<line x1="625.4" y1="1295.6" x2="625.4" y2="1303.6" stroke="#000" stroke-width="2.4" />
<text x="625.4" y="1278.3" font-size="28.5" fill="#000" stroke="#000" stroke-width="0.5" text-anchor="middle" >08</text>
<line x1="685.6" y1="1295.6" x2="685.6" y2="1300.1" stroke="#000" stroke-width="2.4" />
<line x1="745.9" y1="1295.6" x2="745.9" y2="1303.6" stroke="#000" stroke-width="2.4" />
<text x="745.9" y="1278.3" font-size="28.5" fill="#000" stroke="#000" stroke-width="0.5" text-anchor="middle" >10</text>
<line x1="806.1" y1="1295.6" x2="806.1" y2="1300.1" stroke="#000" stroke-width="2.4" />
<line x1="866.4" y1="1295.6" x2="866.4" y2="1303.6" stroke="#000" stroke-width="2.4" />
<text x="866.4" y="1278.3" font-size="28.5" fill="#000" stroke="#000" stroke-width="0.5" text-anchor="middle" >12</text>
<line x1="926.6" y1="1295.6" x2="926.6" y2="1300.1" stroke="#000" stroke-width="2.4" />
<line x1="986.9" y1="1295.6" x2="986.9" y2="1303.6" stroke="#000" stroke-width="2.4" />
<text x="986.9" y="1278.3" font-size="28.5" fill="#000" stroke="#000" stroke-width="0.5" text-anchor="middle" >14</text>
<line x1="1047.1" y1="1295.6" x2="1047.1" y2="1300.1" stroke="#000" stroke-width="2.4" />
<line x1="1107.3" y1="1295.6" x2="1107.3" y2="1303.6" stroke="#000" stroke-width="2.4" />
<text x="1107.3" y="1278.3" font-size="28.5" fill="#000" stroke="#000" stroke-width="0.5" text-anchor="middle" >16</text>
<line x1="1167.6" y1="1295.6" x2="1167.6" y2="1300.1" stroke="#000" stroke-width="2.4" />
<line x1="1227.8" y1="1295.6" x2="1227.8" y2="1303.6" stroke="#000" stroke-width="2.4" />
<text x="1227.8" y="1278.3" font-size="28.5" fill="#000" stroke="#000" stroke-width="0.5" text-anchor="middle" >18</text>
<line x1="1288.1" y1="1295.6" x2="1288.1" y2="1300.1" stroke="#000" stroke-width="2.4" />
<line x1="1348.3" y1="1295.6" x2="1348.3" y2="1303.6" stroke="#000" stroke-width="2.4" />
<text x="1348.3" y="1278.3" font-size="28.5" fill="#000" stroke="#000" stroke-width="0.5" text-anchor="middle" >20</text>
<line x1="1408.6" y1="1295.6" x2="1408.6" y2="1300.1" stroke="#000" stroke-width="2.4" />
<line x1="1468.8" y1="1295.6" x2="1468.8" y2="1303.6" stroke="#000" stroke-width="2.4" />
<text x="1468.8" y="1278.3" font-size="28.5" fill="#000" stroke="#000" stroke-width="0.5" text-anchor="middle" >22</text>
<line x1="1529.1" y1="1295.6" x2="1529.1" y2="1300.1" stroke="#000" stroke-width="2.4" />
<line x1="1589.3" y1="1295.6" x2="1589.3" y2="1303.6" stroke="#000" stroke-width="2.4" />
<text x="1589.3" y="1278.3" font-size="28.5" fill="#000" stroke="#000" stroke-width="0.5" text-anchor="middle" >24</text>
<line x1="1649.6" y1="1295.6" x2="1649.6" y2="1300.1" stroke="#000" stroke-width="2.4" />
<line x1="1709.8" y1="1295.6" x2="1709.8" y2="1303.6" stroke="#000" stroke-width="2.4" />
<text x="1709.8" y="1278.3" font-size="28.5" fill="#000" stroke="#000" stroke-width="0.5" text-anchor="middle" >26</text>
<line x1="1770.1" y1="1295.6" x2="1770.1" y2="1300.1" stroke="#000" stroke-width="2.4" />
<line x1="1830.3" y1="1295.6" x2="1830.3" y2="1303.6" stroke="#000" stroke-width="2.4" />
<text x="1830.3" y="1278.3" font-size="28.5" fill="#000" stroke="#000" stroke-width="0.5" text-anchor="middle" >28</text>
<line x1="1890.6" y1="1295.6" x2="1890.6" y2="1300.1" stroke="#000" stroke-width="2.4" />
<line x1="1950.8" y1="1295.6" x2="1950.8" y2="1303.6" stroke="#000" stroke-width="2.4" />
<text x="1950.8" y="1278.3" font-size="28.5" fill="#000" stroke="#000" stroke-width="0.5" text-anchor="middle" >30</text>
<line x1="2011.1" y1="1295.6" x2="2011.1" y2="1300.1" stroke="#000" stroke-width="2.4" />
<text x="144.2" y="1320.7" font-size="30.5" fill="#3e7272" stroke="#3e7272" stroke-width="0.5" text-anchor="end" letter-spacing="0.4">40</text>
<text x="144.2" y="1413.1" font-size="30.5" fill="#3e7272" stroke="#3e7272" stroke-width="0.5" text-anchor="end" letter-spacing="0.4">30</text>
<text x="144.2" y="1516.9" font-size="30.5" fill="#3e7272" stroke="#3e7272" stroke-width="0.5" text-anchor="end" letter-spacing="0.4">20</text>
<text x="144.2" y="1620.5" font-size="30.5" fill="#3e7272" stroke="#3e7272" stroke-width="0.5" text-anchor="end" letter-spacing="0.4">10</text>
<text x="144.2" y="1709.8" font-size="30.5" fill="#3e7272" stroke="#3e7272" stroke-width="0.5" text-anchor="end" letter-spacing="0.4">0</text>
<text x="2033" y="1320.2" font-size="30.8" fill="#7050a0" stroke="#7050a0" stroke-width="0.5" text-anchor="start" letter-spacing="0.5">360</text>
<text x="2033" y="1413.2" font-size="30.8" fill="#7050a0" stroke="#7050a0" stroke-width="0.5" text-anchor="start" letter-spacing="0.5">270</text>
<text x="2033" y="1517" font-size="30.8" fill="#7050a0" stroke="#7050a0" stroke-width="0.5" text-anchor="start" letter-spacing="0.5">180</text>
<text x="2033" y="1620" font-size="30.8" fill="#7050a0" stroke="#7050a0" stroke-width="0.5" text-anchor="start" letter-spacing="0.5">90</text>
<text x="2033" y="1709.4" font-size="30.8" fill="#7050a0" stroke="#7050a0" stroke-width="0.5" text-anchor="start" letter-spacing="0.5">0</text>
<text transform="translate(69.6,1503) rotate(-90)" font-size="31.1" fill="#3e7272" stroke="#3e7272" stroke-width="0.5" letter-spacing="0.3" text-anchor="middle">Скорость ветра (km/h)</text>
<text transform="translate(2132.7,1513) rotate(-90)" font-size="31" fill="#7050a0" stroke="#7050a0" stroke-width="0.5" letter-spacing="0.3" text-anchor="middle">Направление ветра</text>
<text transform="translate(2113.8,1334.4) rotate(-90)" font-size="20" stroke="#7050a0" stroke-width="0.3" fill="#7050a0" text-anchor="middle">o</text>
<g transform="translate(2186,1247.6) rotate(90)" fill="#7050a0"><rect x="0" y="-2.3" width="33" height="4.6"/><polygon points="51,0 27,-8.8 31.5,0 27,8.8"/></g>
<g transform="translate(2155,1399.4) rotate(0)" fill="#7050a0"><rect x="0" y="-2.3" width="45" height="4.6"/><polygon points="64,0 39.5,-8.8 44,0 39.5,8.8"/></g>
<g transform="translate(2186,1553.6) rotate(-90)" fill="#7050a0"><rect x="0" y="-2.3" width="33" height="4.6"/><polygon points="51,0 27,-8.8 31.5,0 27,8.8"/></g>
<g transform="translate(2219,1606) rotate(180)" fill="#7050a0"><rect x="0" y="-2.3" width="45" height="4.6"/><polygon points="64,0 39.5,-8.8 44,0 39.5,8.8"/></g>
<g transform="translate(2186,1658.9) rotate(90)" fill="#7050a0"><rect x="0" y="-2.3" width="33" height="4.6"/><polygon points="51,0 27,-8.8 31.5,0 27,8.8"/></g>
</svg></body></html>
